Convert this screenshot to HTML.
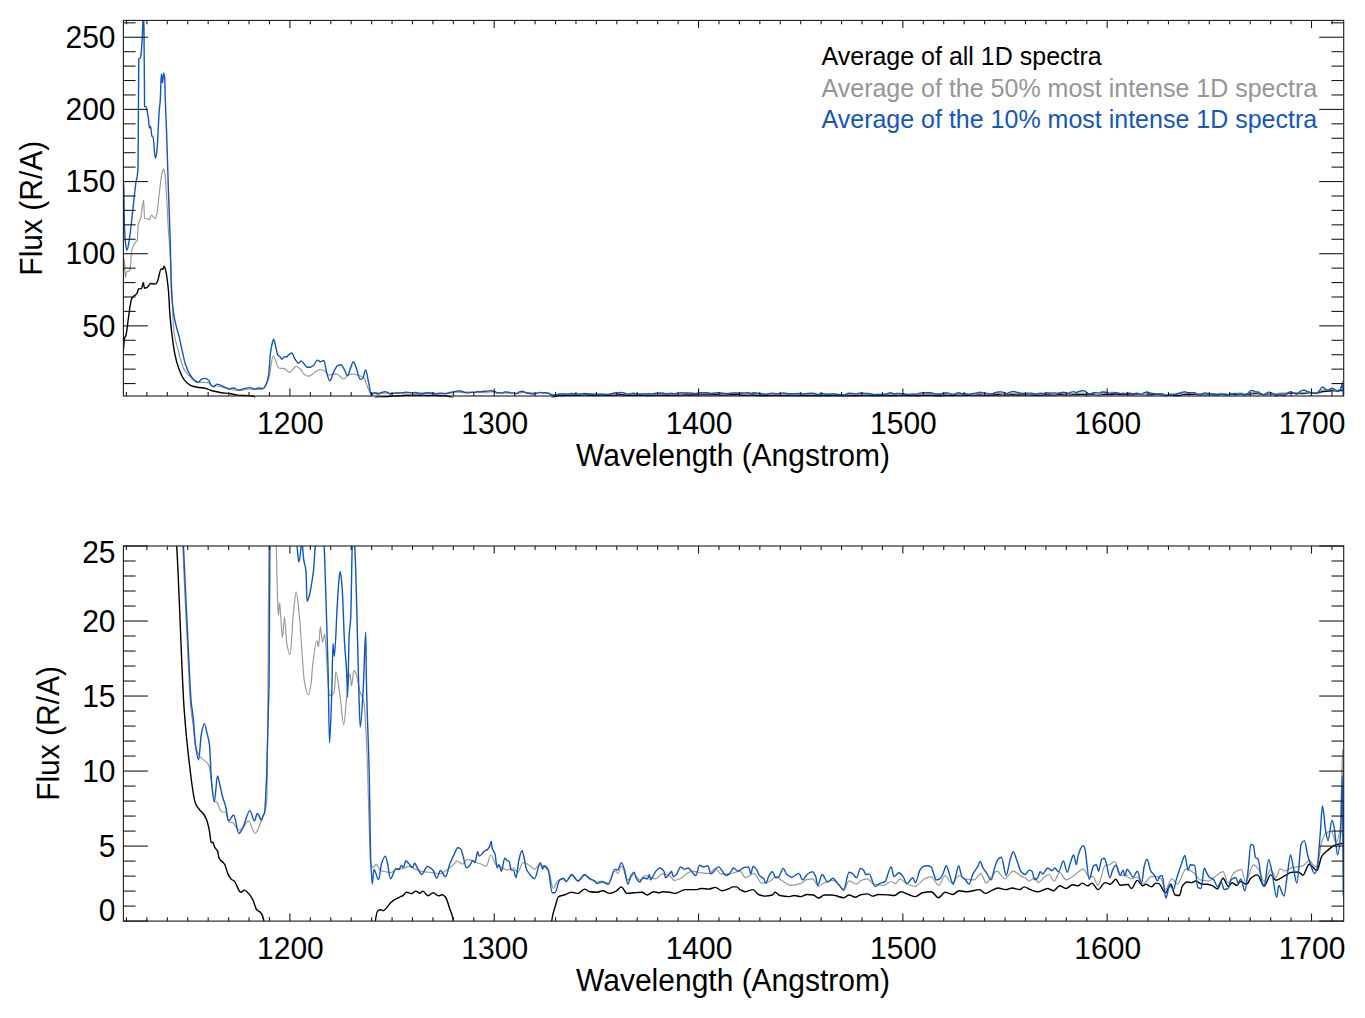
<!DOCTYPE html><html><head><meta charset="utf-8"><style>
html,body{margin:0;padding:0;background:#fff;}
body{width:1365px;height:1018px;overflow:hidden;}
svg{display:block;}
text{font-family:"Liberation Sans",sans-serif;}
</style></head><body>
<svg width="1365" height="1018" viewBox="0 0 1365 1018">
<defs>
<clipPath id="ct"><rect x="123.4" y="20.4" width="1220.3" height="377.0"/></clipPath>
<clipPath id="cb"><rect x="123.4" y="546.0" width="1220.3" height="375.1"/></clipPath>
</defs>

<g clip-path="url(#ct)" fill="none" stroke-linejoin="round" stroke-linecap="round">
<path d="M123.30,350.70 C123.77,346.40 124.23,339.31 124.70,337.80 C125.10,336.51 125.50,336.57 125.90,335.40 C126.70,333.06 127.50,324.07 128.30,318.90 C129.40,311.79 130.50,301.11 131.60,298.90 C132.37,297.36 133.13,296.76 133.90,296.00 C134.90,295.01 135.90,294.91 136.90,293.60 C137.47,292.86 138.03,289.13 138.60,288.90 C139.60,288.49 140.60,288.71 141.60,288.30 C142.17,288.07 142.73,282.40 143.30,282.40 C143.70,282.40 144.10,288.30 144.50,288.30 C145.50,288.30 146.50,287.69 147.50,287.10 C148.53,286.49 149.57,283.50 150.60,283.50 C152.20,283.50 153.80,284.10 155.40,284.10 C156.03,284.10 156.67,282.86 157.30,281.80 C158.63,279.56 159.97,268.60 161.30,268.60 C161.77,268.60 162.23,269.60 162.70,269.60 C163.13,269.60 163.57,266.10 164.00,266.10 C164.40,266.10 164.80,267.42 165.20,268.60 C166.27,271.74 167.33,279.32 168.40,290.00 C168.90,295.00 169.40,308.39 169.90,314.60 C170.57,322.88 171.23,328.79 171.90,334.20 C172.87,342.04 173.83,349.22 174.80,353.90 C176.13,360.36 177.47,365.05 178.80,368.60 C180.73,373.75 182.67,378.12 184.60,380.40 C186.57,382.72 188.53,384.44 190.50,385.30 C192.80,386.30 195.10,386.88 197.40,387.30 C200.17,387.81 202.93,387.84 205.70,388.40 C207.80,388.82 209.90,390.23 212.00,390.80 C215.13,391.64 218.27,392.28 221.40,392.70 C224.03,393.05 226.67,393.14 229.30,393.50 C231.93,393.86 234.57,394.88 237.20,395.10 C239.80,395.31 242.40,395.33 245.00,395.50 C247.90,395.69 250.80,395.69 253.70,396.30 C254.47,396.46 255.23,398.77 256.00,400.00 M375.00,398.86 C375.17,398.54 375.33,398.01 375.50,397.89 C376.33,397.30 377.17,397.06 378.00,397.00 C378.87,396.94 379.73,396.90 380.60,396.90 C381.47,396.90 382.33,397.00 383.20,397.00 C384.40,397.00 385.60,396.82 386.80,396.70 C388.17,396.57 389.53,396.33 390.90,396.21 C392.30,396.09 393.70,395.99 395.10,395.91 C396.47,395.83 397.83,395.78 399.20,395.71 C400.57,395.65 401.93,395.61 403.30,395.52 C404.33,395.45 405.37,395.22 406.40,395.22 C408.10,395.22 409.80,395.36 411.50,395.36 C412.90,395.36 414.30,395.11 415.70,395.11 C417.07,395.11 418.43,395.32 419.80,395.32 C420.83,395.32 421.87,395.11 422.90,395.11 C424.60,395.11 426.30,395.57 428.00,395.57 C429.73,395.57 431.47,395.27 433.20,395.27 C434.93,395.27 436.67,395.57 438.40,395.57 C439.77,395.57 441.13,395.46 442.50,395.46 C443.53,395.46 444.57,395.59 445.60,395.71 C446.97,395.88 448.33,396.40 449.70,396.81 C450.90,397.16 452.10,397.19 453.30,397.99 C453.47,398.10 453.63,398.57 453.80,398.86 M551.20,398.86 C551.37,398.57 551.53,398.12 551.70,397.99 C552.87,397.09 554.03,396.98 555.20,396.60 C556.33,396.22 557.47,395.71 558.60,395.64 C560.43,395.54 562.27,395.55 564.10,395.49 C566.60,395.41 569.10,395.23 571.60,395.23 C573.77,395.23 575.93,395.34 578.10,395.34 C580.27,395.34 582.43,394.92 584.60,394.92 C586.40,394.92 588.20,395.16 590.00,395.18 C592.17,395.21 594.33,395.23 596.50,395.23 C598.67,395.23 600.83,395.08 603.00,395.08 C605.17,395.08 607.33,395.34 609.50,395.34 C611.63,395.34 613.77,395.22 615.90,395.12 C617.73,395.04 619.57,394.71 621.40,394.71 C623.20,394.71 625.00,395.34 626.80,395.34 C629.30,395.34 631.80,395.30 634.30,395.28 C636.83,395.26 639.37,395.23 641.90,395.23 C643.67,395.23 645.43,395.49 647.20,395.49 C649.33,395.49 651.47,395.18 653.60,395.18 C655.43,395.18 657.27,395.28 659.10,395.28 C660.17,395.28 661.23,395.18 662.30,395.18 C664.83,395.18 667.37,395.21 669.90,395.23 C671.70,395.25 673.50,395.34 675.30,395.34 C678.53,395.34 681.77,394.97 685.00,394.97 C688.60,394.97 692.20,394.97 695.80,394.97 C697.60,394.97 699.40,394.86 701.20,394.86 C703.73,394.86 706.27,394.92 708.80,394.92 C710.97,394.92 713.13,394.76 715.30,394.76 C717.47,394.76 719.63,395.08 721.80,395.08 C724.30,395.08 726.80,394.96 729.30,394.86 C730.40,394.82 731.50,394.71 732.60,394.71 C734.03,394.71 735.47,394.71 736.90,394.71 C737.93,394.71 738.97,394.91 740.00,394.97 C741.80,395.07 743.60,395.18 745.40,395.18 C747.93,395.18 750.47,394.97 753.00,394.97 C754.80,394.97 756.60,395.37 758.40,395.44 C760.57,395.52 762.73,395.60 764.90,395.60 C767.40,395.60 769.90,395.56 772.40,395.49 C773.30,395.46 774.20,395.23 775.10,395.23 C776.73,395.23 778.37,395.50 780.00,395.54 C782.87,395.60 785.73,395.64 788.60,395.64 C790.43,395.64 792.27,395.54 794.10,395.54 C796.23,395.54 798.37,395.64 800.50,395.64 C802.67,395.64 804.83,395.44 807.00,395.44 C809.17,395.44 811.33,395.46 813.50,395.49 C815.13,395.51 816.77,395.80 818.40,395.80 C820.37,395.80 822.33,395.49 824.30,395.49 C826.83,395.49 829.37,395.49 831.90,395.49 C832.93,395.49 833.97,395.52 835.00,395.54 C837.87,395.59 840.73,395.75 843.60,395.75 C845.43,395.75 847.27,395.49 849.10,395.49 C851.23,395.49 853.37,395.70 855.50,395.70 C857.00,395.70 858.50,395.52 860.00,395.49 C862.47,395.43 864.93,395.38 867.40,395.38 C869.20,395.38 871.00,395.60 872.80,395.60 C874.60,395.60 876.40,395.44 878.20,395.44 C881.83,395.44 885.47,395.47 889.10,395.49 C890.90,395.50 892.70,395.54 894.50,395.54 C896.63,395.54 898.77,395.18 900.90,395.18 C903.43,395.18 905.97,395.36 908.50,395.44 C910.83,395.51 913.17,395.64 915.50,395.64 C917.87,395.64 920.23,395.32 922.60,395.28 C925.47,395.22 928.33,395.18 931.20,395.18 C933.67,395.18 936.13,395.75 938.60,395.75 C940.77,395.75 942.93,395.23 945.10,395.23 C947.63,395.23 950.17,395.44 952.70,395.44 C954.87,395.44 957.03,395.08 959.20,395.08 C961.73,395.08 964.27,395.18 966.80,395.18 C971.10,395.18 975.40,394.97 979.70,394.97 C981.50,394.97 983.30,395.34 985.10,395.34 C986.90,395.34 988.70,395.20 990.50,395.12 C993.03,395.02 995.57,394.82 998.10,394.82 C1000.63,394.82 1003.17,394.97 1005.70,394.97 C1007.87,394.97 1010.03,394.82 1012.20,394.82 C1014.70,394.82 1017.20,394.97 1019.70,394.97 C1021.17,394.97 1022.63,394.71 1024.10,394.71 C1026.20,394.71 1028.30,394.90 1030.40,394.97 C1032.93,395.06 1035.47,395.18 1038.00,395.18 C1041.23,395.18 1044.47,394.86 1047.70,394.86 C1049.67,394.86 1051.63,395.08 1053.60,395.08 C1055.60,395.08 1057.60,394.61 1059.60,394.61 C1061.77,394.61 1063.93,394.86 1066.10,394.86 C1068.27,394.86 1070.43,394.50 1072.60,394.50 C1074.40,394.50 1076.20,394.61 1078.00,394.61 C1079.43,394.61 1080.87,394.35 1082.30,394.35 C1084.10,394.35 1085.90,394.61 1087.70,394.61 C1089.13,394.61 1090.57,394.35 1092.00,394.35 C1094.00,394.35 1096.00,394.97 1098.00,394.97 C1100.33,394.97 1102.67,394.30 1105.00,394.30 C1106.80,394.30 1108.60,394.45 1110.40,394.45 C1112.20,394.45 1114.00,393.98 1115.80,393.98 C1117.23,393.98 1118.67,394.56 1120.10,394.56 C1121.50,394.56 1122.90,394.51 1124.30,394.50 C1125.53,394.49 1126.77,394.48 1128.00,394.48 C1129.13,394.48 1130.27,394.86 1131.40,394.86 C1133.37,394.86 1135.33,394.09 1137.30,394.09 C1139.10,394.09 1140.90,394.61 1142.70,394.61 C1143.77,394.61 1144.83,394.45 1145.90,394.45 C1147.73,394.45 1149.57,394.71 1151.40,394.71 C1152.83,394.71 1154.27,394.35 1155.70,394.35 C1156.77,394.35 1157.83,394.37 1158.90,394.39 C1161.07,394.45 1163.23,395.28 1165.40,395.28 C1167.20,395.28 1169.00,394.45 1170.80,394.45 C1172.23,394.45 1173.67,395.46 1175.10,395.49 C1176.57,395.52 1178.03,395.54 1179.50,395.54 C1180.40,395.54 1181.30,394.79 1182.20,394.66 C1183.80,394.43 1185.40,394.24 1187.00,394.24 C1188.47,394.24 1189.93,394.30 1191.40,394.30 C1192.83,394.30 1194.27,394.14 1195.70,394.14 C1197.87,394.14 1200.03,394.45 1202.20,394.45 C1203.63,394.45 1205.07,394.45 1206.50,394.45 C1208.30,394.45 1210.10,394.50 1211.90,394.56 C1213.77,394.61 1215.63,394.91 1217.50,394.91 C1219.33,394.91 1221.17,393.87 1223.00,393.87 C1224.77,393.87 1226.53,394.64 1228.30,394.64 C1229.60,394.64 1230.90,394.32 1232.20,394.32 C1233.77,394.32 1235.33,394.58 1236.90,394.58 C1238.00,394.58 1239.10,394.19 1240.20,394.19 C1242.40,394.19 1244.60,394.45 1246.80,394.45 C1248.13,394.45 1249.47,393.97 1250.80,393.87 C1253.00,393.71 1255.20,393.56 1257.40,393.56 C1259.63,393.56 1261.87,394.64 1264.10,394.64 C1266.30,394.64 1268.50,393.56 1270.70,393.56 C1272.47,393.56 1274.23,394.07 1276.00,394.07 C1278.67,394.07 1281.33,393.81 1284.00,393.68 C1286.63,393.55 1289.27,393.31 1291.90,393.30 C1294.03,393.29 1296.17,393.28 1298.30,393.28 C1299.83,393.28 1301.37,393.59 1302.90,393.59 C1305.00,393.59 1307.10,392.53 1309.20,392.53 C1311.80,392.53 1314.40,393.13 1317.00,393.13 C1318.57,393.13 1320.13,392.01 1321.70,391.78 C1323.80,391.47 1325.90,391.35 1328.00,391.17 C1330.10,391.00 1332.20,390.78 1334.30,390.71 C1336.40,390.64 1338.50,390.61 1340.60,390.57 C1342.07,390.54 1343.53,390.51 1345.00,390.49" stroke="#000000" stroke-width="1.4"/>
<path d="M123.30,297.00 C123.47,285.33 123.63,263.24 123.80,262.00 C124.03,260.27 124.27,259.40 124.50,259.40 C124.80,259.40 125.10,277.70 125.40,277.70 C125.87,277.70 126.33,272.21 126.80,271.80 C127.70,271.01 128.60,271.44 129.50,270.60 C129.90,270.23 130.30,267.25 130.70,263.60 C130.90,261.77 131.10,255.17 131.30,253.60 C131.77,249.94 132.23,248.36 132.70,247.10 C133.70,244.39 134.70,242.87 135.70,241.80 C136.23,241.23 136.77,241.41 137.30,240.50 C137.60,239.99 137.90,225.87 138.20,224.40 C139.00,220.49 139.80,221.26 140.60,218.50 C141.60,215.06 142.60,200.30 143.60,200.30 C143.93,200.30 144.27,218.50 144.60,218.50 C145.40,218.50 146.20,218.50 147.00,218.50 C147.83,218.50 148.67,220.00 149.50,220.00 C150.13,220.00 150.77,215.00 151.40,215.00 C152.57,215.00 153.73,218.50 154.90,218.50 C155.53,218.50 156.17,216.64 156.80,214.60 C157.63,211.91 158.47,199.75 159.30,193.00 C160.10,186.52 160.90,178.26 161.70,174.70 C162.30,172.03 162.90,168.90 163.50,168.90 C163.97,168.90 164.43,171.29 164.90,173.80 C165.57,177.39 166.23,190.12 166.90,201.00 C167.37,208.62 167.83,221.67 168.30,228.80 C168.73,235.42 169.17,238.65 169.60,245.00 C170.07,251.84 170.53,260.57 171.00,270.00 C171.50,280.10 172.00,293.67 172.50,305.00 C172.87,313.31 173.23,326.12 173.60,329.30 C175.03,341.75 176.47,343.23 177.90,348.90 C179.80,356.42 181.70,365.14 183.60,368.60 C185.73,372.48 187.87,374.33 190.00,376.40 C192.47,378.79 194.93,382.30 197.40,382.30 C199.93,382.30 202.47,382.30 205.00,382.30 C206.30,382.30 207.60,382.54 208.90,382.90 C209.93,383.18 210.97,386.00 212.00,386.00 C213.57,386.00 215.13,386.00 216.70,386.00 C219.07,386.00 221.43,386.98 223.80,387.60 C225.87,388.14 227.93,389.18 230.00,389.50 C233.33,390.02 236.67,390.50 240.00,390.50 C243.33,390.50 246.67,389.00 250.00,389.00 C252.67,389.00 255.33,389.50 258.00,389.50 C259.70,389.50 261.40,389.31 263.10,389.00 C264.93,388.66 266.77,383.93 268.60,379.00 C270.17,374.79 271.73,355.80 273.30,355.80 C275.13,355.80 276.97,367.56 278.80,368.00 C280.63,368.44 282.47,368.31 284.30,368.70 C286.10,369.09 287.90,372.30 289.70,372.30 C291.80,372.30 293.90,366.40 296.00,366.40 C297.57,366.40 299.13,368.04 300.70,369.50 C301.77,370.49 302.83,373.47 303.90,374.20 C305.47,375.27 307.03,376.20 308.60,376.20 C310.17,376.20 311.73,374.54 313.30,373.50 C314.33,372.81 315.37,371.69 316.40,371.10 C317.60,370.42 318.80,369.50 320.00,369.50 C321.43,369.50 322.87,370.09 324.30,370.70 C325.87,371.36 327.43,375.00 329.00,375.00 C331.37,375.00 333.73,373.90 336.10,373.90 C338.73,373.90 341.37,379.00 344.00,379.00 C345.30,379.00 346.60,375.35 347.90,375.00 C349.73,374.51 351.57,374.20 353.40,374.20 C354.70,374.20 356.00,374.66 357.30,375.00 C359.40,375.55 361.50,375.93 363.60,377.40 C364.90,378.31 366.20,383.98 367.50,386.80 C368.83,389.70 370.17,394.70 371.50,394.70 C372.13,394.70 372.77,392.97 373.40,392.84 C374.27,392.65 375.13,392.54 376.00,392.54 C377.53,392.54 379.07,393.07 380.60,393.13 C381.97,393.19 383.33,393.20 384.70,393.23 C386.77,393.27 388.83,393.34 390.90,393.34 C392.63,393.34 394.37,393.08 396.10,393.04 C398.40,392.98 400.70,392.99 403.00,392.94 C404.83,392.90 406.67,392.74 408.50,392.74 C410.33,392.74 412.17,392.87 414.00,392.94 C416.63,393.04 419.27,393.19 421.90,393.23 C425.33,393.29 428.77,393.30 432.20,393.34 C434.93,393.37 437.67,393.43 440.40,393.43 C443.17,393.43 445.93,393.12 448.70,392.94 C450.07,392.85 451.43,392.76 452.80,392.64 C454.17,392.53 455.53,392.24 456.90,392.24 C457.33,392.24 457.77,392.26 458.20,392.27 C459.67,392.31 461.13,392.53 462.60,392.53 C464.03,392.53 465.47,392.06 466.90,392.06 C468.33,392.06 469.77,392.12 471.20,392.16 C473.00,392.22 474.80,392.31 476.60,392.37 C478.07,392.42 479.53,392.46 481.00,392.51 C482.80,392.57 484.60,392.74 486.40,392.74 C487.83,392.74 489.27,391.64 490.70,391.64 C492.50,391.64 494.30,392.44 496.10,392.58 C498.27,392.74 500.43,392.79 502.60,392.89 C504.03,392.96 505.47,393.10 506.90,393.10 C509.07,393.10 511.23,392.89 513.40,392.89 C514.83,392.89 516.27,393.31 517.70,393.31 C519.50,393.31 521.30,392.37 523.10,392.37 C524.90,392.37 526.70,392.49 528.50,392.58 C530.67,392.68 532.83,393.00 535.00,393.00 C536.43,393.00 537.87,392.58 539.30,392.58 C540.87,392.58 542.43,392.66 544.00,392.75 C545.70,392.84 547.40,393.01 549.10,393.31 C550.47,393.54 551.83,394.86 553.20,394.86 C554.47,394.86 555.73,394.37 557.00,394.24 C557.90,394.15 558.80,394.07 559.70,394.04 C560.97,393.99 562.23,393.95 563.50,393.95 C564.40,393.95 565.30,394.19 566.20,394.19 C568.00,394.19 569.80,393.61 571.60,393.61 C573.77,393.61 575.93,394.14 578.10,394.14 C580.27,394.14 582.43,393.61 584.60,393.61 C586.40,393.61 588.20,393.86 590.00,393.95 C592.17,394.06 594.33,394.24 596.50,394.24 C598.30,394.24 600.10,394.14 601.90,394.14 C604.07,394.14 606.23,394.34 608.40,394.34 C610.57,394.34 612.73,393.18 614.90,393.18 C615.97,393.18 617.03,393.41 618.10,393.41 C619.20,393.41 620.30,392.70 621.40,392.70 C623.53,392.70 625.67,394.04 627.80,394.04 C629.97,394.04 632.13,393.52 634.30,393.52 C636.10,393.52 637.90,394.05 639.70,394.05 C641.47,394.05 643.23,393.61 645.00,393.61 C648.60,393.61 652.20,393.93 655.80,393.93 C657.97,393.93 660.13,393.46 662.30,393.46 C664.83,393.46 667.37,393.55 669.90,393.66 C671.33,393.73 672.77,394.09 674.20,394.09 C676.73,394.09 679.27,393.95 681.80,393.83 C683.23,393.75 684.67,393.54 686.10,393.46 C688.27,393.34 690.43,393.20 692.60,393.20 C695.47,393.20 698.33,393.33 701.20,393.35 C704.10,393.38 707.00,393.41 709.90,393.41 C711.70,393.41 713.50,392.89 715.30,392.89 C717.10,392.89 718.90,393.46 720.70,393.46 C723.57,393.46 726.43,393.46 729.30,393.46 C732.90,393.46 736.50,393.20 740.10,393.20 C741.87,393.20 743.63,393.83 745.40,393.83 C748.30,393.83 751.20,393.41 754.10,393.41 C756.60,393.41 759.10,394.35 761.60,394.35 C764.50,394.35 767.40,394.25 770.30,394.14 C772.10,394.08 773.90,393.72 775.70,393.72 C777.50,393.72 779.30,393.94 781.10,394.04 C784.33,394.22 787.57,394.56 790.80,394.56 C794.03,394.56 797.27,394.49 800.50,394.39 C802.30,394.34 804.10,394.09 805.90,394.04 C808.07,393.98 810.23,393.93 812.40,393.93 C814.57,393.93 816.73,394.66 818.90,394.66 C820.70,394.66 822.50,394.36 824.30,394.30 C827.20,394.19 830.10,394.09 833.00,394.09 C835.00,394.09 837.00,394.34 839.00,394.53 C840.53,394.67 842.07,395.08 843.60,395.08 C845.43,395.08 847.27,394.13 849.10,394.13 C851.60,394.13 854.10,394.45 856.60,394.45 C857.70,394.45 858.80,394.19 859.90,394.14 C862.40,394.03 864.90,393.93 867.40,393.93 C869.57,393.93 871.73,394.41 873.90,394.45 C877.13,394.52 880.37,394.56 883.60,394.56 C886.13,394.56 888.67,394.19 891.20,394.19 C892.63,394.19 894.07,394.39 895.50,394.39 C896.97,394.39 898.43,393.93 899.90,393.93 C902.07,393.93 904.23,394.30 906.40,394.39 C909.27,394.52 912.13,394.66 915.00,394.66 C918.23,394.66 921.47,394.08 924.70,393.93 C926.87,393.84 929.03,393.72 931.20,393.72 C933.67,393.72 936.13,394.56 938.60,394.56 C940.77,394.56 942.93,393.61 945.10,393.61 C947.27,393.61 949.43,394.35 951.60,394.35 C954.13,394.35 956.67,393.61 959.20,393.61 C961.00,393.61 962.80,393.90 964.60,393.93 C967.83,394.00 971.07,394.04 974.30,394.04 C976.47,394.04 978.63,393.41 980.80,393.41 C982.60,393.41 984.40,394.35 986.20,394.35 C988.00,394.35 989.80,393.91 991.60,393.72 C993.40,393.53 995.20,393.20 997.00,393.20 C999.53,393.20 1002.07,393.93 1004.60,393.93 C1007.47,393.93 1010.33,393.20 1013.20,393.20 C1016.10,393.20 1019.00,393.60 1021.90,393.72 C1022.93,393.76 1023.97,393.78 1025.00,393.83 C1026.43,393.89 1027.87,394.14 1029.30,394.14 C1031.10,394.14 1032.90,393.83 1034.70,393.83 C1035.97,393.83 1037.23,394.30 1038.50,394.30 C1039.77,394.30 1041.03,394.08 1042.30,393.98 C1044.47,393.81 1046.63,393.52 1048.80,393.52 C1050.60,393.52 1052.40,394.14 1054.20,394.14 C1056.00,394.14 1057.80,393.31 1059.60,393.31 C1061.77,393.31 1063.93,394.04 1066.10,394.04 C1068.27,394.04 1070.43,393.84 1072.60,393.72 C1076.20,393.52 1079.80,393.00 1083.40,393.00 C1085.20,393.00 1087.00,393.72 1088.80,393.72 C1090.20,393.72 1091.60,393.72 1093.00,393.72 C1094.67,393.72 1096.33,394.56 1098.00,394.56 C1100.33,394.56 1102.67,392.78 1105.00,392.68 C1106.43,392.62 1107.87,392.62 1109.30,392.58 C1111.10,392.52 1112.90,392.27 1114.70,392.27 C1116.87,392.27 1119.03,393.61 1121.20,393.61 C1122.47,393.61 1123.73,393.57 1125.00,393.57 C1126.93,393.57 1128.87,393.93 1130.80,393.93 C1132.87,393.93 1134.93,393.76 1137.00,393.76 C1138.90,393.76 1140.80,394.45 1142.70,394.45 C1145.60,394.45 1148.50,393.72 1151.40,393.72 C1152.93,393.72 1154.47,393.72 1156.00,393.72 C1157.70,393.72 1159.40,393.81 1161.10,393.93 C1162.53,394.04 1163.97,394.97 1165.40,394.97 C1167.57,394.97 1169.73,393.93 1171.90,393.93 C1173.70,393.93 1175.50,394.45 1177.30,394.45 C1180.20,394.45 1183.10,393.00 1186.00,393.00 C1188.87,393.00 1191.73,393.21 1194.60,393.41 C1196.40,393.54 1198.20,394.00 1200.00,394.04 C1202.87,394.11 1205.73,394.14 1208.60,394.14 C1210.77,394.14 1212.93,393.86 1215.10,393.72 C1217.73,393.55 1220.37,393.24 1223.00,393.24 C1224.77,393.24 1226.53,394.32 1228.30,394.32 C1230.07,394.32 1231.83,393.49 1233.60,393.36 C1236.23,393.18 1238.87,393.05 1241.50,393.05 C1242.83,393.05 1244.17,394.19 1245.50,394.19 C1248.17,394.19 1250.83,392.60 1253.50,392.60 C1255.27,392.60 1257.03,392.83 1258.80,393.05 C1260.57,393.26 1262.33,394.19 1264.10,394.19 C1266.30,394.19 1268.50,393.05 1270.70,393.05 C1272.47,393.05 1274.23,393.81 1276.00,393.81 C1277.33,393.81 1278.67,392.98 1280.00,392.98 C1281.77,392.98 1283.53,393.17 1285.30,393.17 C1287.50,393.17 1289.70,392.89 1291.90,392.85 C1294.13,392.82 1296.37,392.82 1298.60,392.79 C1300.13,392.76 1301.67,392.72 1303.20,392.66 C1305.20,392.58 1307.20,392.15 1309.20,392.15 C1311.13,392.15 1313.07,392.79 1315.00,392.79 C1315.67,392.79 1316.33,392.74 1317.00,392.68 C1318.57,392.55 1320.13,390.90 1321.70,390.41 C1322.77,390.08 1323.83,389.74 1324.90,389.65 C1327.00,389.47 1329.10,389.35 1331.20,389.35 C1332.77,389.35 1334.33,390.41 1335.90,390.41 C1337.47,390.41 1339.03,389.88 1340.60,388.75 C1341.27,388.27 1341.93,381.50 1342.60,381.50 C1342.93,381.50 1343.27,390.87 1343.60,391.16 C1344.40,391.87 1345.20,391.80 1346.00,392.12" stroke="#999999" stroke-width="1.2"/>
<path d="M123.40,181.20 C123.57,184.13 123.73,185.33 123.90,190.00 C124.07,194.67 124.23,219.40 124.40,224.40 C124.73,234.40 125.07,239.07 125.40,242.00 C125.90,246.40 126.40,250.40 126.90,250.40 C127.87,250.40 128.83,242.28 129.80,236.20 C130.63,230.96 131.47,221.94 132.30,214.60 C133.43,204.62 134.57,192.92 135.70,184.00 C136.47,177.97 137.23,180.50 138.00,167.70 C138.17,164.92 138.33,122.77 138.50,100.00 C138.60,86.34 138.70,58.80 138.80,58.70 C139.23,58.28 139.67,58.51 140.10,58.20 C140.43,57.96 140.77,56.32 141.10,54.30 C141.53,51.68 141.97,42.53 142.40,34.60 C142.73,28.50 143.07,12.00 143.40,12.00 C143.60,12.00 143.80,20.29 144.00,30.00 C144.20,39.71 144.40,106.27 144.60,106.40 C145.07,106.71 145.53,106.57 146.00,106.80 C146.83,107.22 147.67,114.11 148.50,119.60 C148.83,121.80 149.17,128.00 149.50,128.00 C149.87,128.00 150.23,126.50 150.60,126.50 C151.03,126.50 151.47,136.30 151.90,136.30 C152.23,136.30 152.57,136.30 152.90,136.30 C153.73,136.30 154.57,158.40 155.40,158.40 C155.87,158.40 156.33,155.19 156.80,152.00 C157.63,146.31 158.47,119.76 159.30,109.80 C159.63,105.82 159.97,104.74 160.30,100.00 C160.63,95.26 160.97,74.00 161.30,74.00 C161.67,74.00 162.03,82.80 162.40,82.80 C162.83,82.80 163.27,73.00 163.70,73.00 C164.03,73.00 164.37,75.32 164.70,78.90 C164.90,81.05 165.10,94.04 165.30,100.00 C165.70,111.91 166.10,118.93 166.50,130.00 C167.13,147.52 167.77,171.29 168.40,190.00 C169.00,207.72 169.60,219.73 170.20,240.00 C170.60,253.51 171.00,282.94 171.40,290.00 C172.20,304.11 173.00,309.35 173.80,314.60 C174.47,318.97 175.13,321.52 175.80,324.40 C177.10,330.02 178.40,333.61 179.70,339.10 C180.53,342.62 181.37,347.25 182.20,350.90 C183.33,355.87 184.47,361.40 185.60,364.70 C187.23,369.45 188.87,372.95 190.50,375.50 C191.83,377.58 193.17,379.47 194.50,380.40 C195.80,381.30 197.10,382.30 198.40,382.30 C199.37,382.30 200.33,379.82 201.30,379.40 C202.53,378.86 203.77,378.40 205.00,378.40 C206.30,378.40 207.60,379.33 208.90,380.50 C209.67,381.19 210.43,384.56 211.20,385.30 C212.00,386.07 212.80,386.80 213.60,386.80 C214.63,386.80 215.67,384.10 216.70,384.10 C217.77,384.10 218.83,384.55 219.90,384.90 C221.20,385.33 222.50,386.25 223.80,386.80 C225.63,387.57 227.47,388.80 229.30,388.80 C230.60,388.80 231.90,388.00 233.20,388.00 C235.17,388.00 237.13,390.00 239.10,390.00 C241.07,390.00 243.03,388.81 245.00,388.40 C246.57,388.08 248.13,387.60 249.70,387.60 C251.30,387.60 252.90,389.20 254.50,389.20 C255.80,389.20 257.10,388.00 258.40,388.00 C259.97,388.00 261.53,388.40 263.10,388.40 C264.17,388.40 265.23,386.01 266.30,383.70 C267.07,382.04 267.83,379.58 268.60,375.00 C269.13,371.82 269.67,359.87 270.20,355.40 C270.73,350.93 271.27,347.45 271.80,345.20 C272.43,342.53 273.07,339.30 273.70,339.30 C274.37,339.30 275.03,344.26 275.70,346.70 C276.50,349.63 277.30,354.70 278.10,355.40 C278.60,355.84 279.10,355.83 279.60,356.20 C280.40,356.79 281.20,359.30 282.00,359.30 C282.77,359.30 283.53,356.60 284.30,356.60 C285.10,356.60 285.90,357.00 286.70,357.00 C287.17,357.00 287.63,355.81 288.10,355.40 C289.30,354.35 290.50,353.00 291.70,353.00 C292.87,353.00 294.03,357.61 295.20,359.30 C296.27,360.85 297.33,363.20 298.40,363.20 C299.30,363.20 300.20,360.90 301.10,360.90 C302.03,360.90 302.97,362.62 303.90,363.60 C304.93,364.69 305.97,367.20 307.00,367.20 C308.07,367.20 309.13,367.20 310.20,367.20 C311.50,367.20 312.80,365.96 314.10,364.80 C315.13,363.88 316.17,360.10 317.20,360.10 C318.27,360.10 319.33,361.70 320.40,361.70 C321.57,361.70 322.73,360.50 323.90,360.50 C324.83,360.50 325.77,369.61 326.70,372.70 C327.73,376.12 328.77,380.90 329.80,380.90 C331.10,380.90 332.40,374.34 333.70,371.90 C335.03,369.40 336.37,366.17 337.70,365.60 C338.73,365.16 339.77,364.80 340.80,364.80 C342.10,364.80 343.40,368.15 344.70,370.30 C345.63,371.85 346.57,375.80 347.50,375.80 C348.43,375.80 349.37,370.93 350.30,368.70 C351.33,366.23 352.37,361.70 353.40,361.70 C354.43,361.70 355.47,366.06 356.50,368.70 C357.70,371.77 358.90,379.40 360.10,379.40 C361.00,379.40 361.90,378.89 362.80,378.20 C363.73,377.48 364.67,369.90 365.60,369.90 C366.63,369.90 367.67,378.41 368.70,382.90 C369.63,386.95 370.57,395.50 371.50,395.50 C371.77,395.50 372.03,394.71 372.30,394.42 C372.83,393.85 373.37,393.04 373.90,393.04 C375.47,393.04 377.03,394.03 378.60,394.03 C379.60,394.03 380.60,392.72 381.60,392.44 C382.83,392.09 384.07,391.75 385.30,391.75 C385.97,391.75 386.63,392.10 387.30,392.35 C388.33,392.73 389.37,393.93 390.40,393.93 C392.30,393.93 394.20,392.94 396.10,392.94 C397.13,392.94 398.17,393.04 399.20,393.04 C399.87,393.04 400.53,392.64 401.20,392.64 C401.90,392.64 402.60,392.84 403.30,392.84 C404.17,392.84 405.03,392.19 405.90,392.19 C406.77,392.19 407.63,392.36 408.50,392.44 C409.87,392.57 411.23,392.84 412.60,392.84 C413.27,392.84 413.93,392.44 414.60,392.44 C415.63,392.44 416.67,392.79 417.70,392.94 C419.10,393.15 420.50,393.53 421.90,393.53 C422.93,393.53 423.97,393.18 425.00,393.04 C425.83,392.92 426.67,392.74 427.50,392.74 C428.70,392.74 429.90,392.86 431.10,392.94 C431.80,392.99 432.50,393.05 433.20,393.13 C434.40,393.28 435.60,393.87 436.80,393.87 C438.00,393.87 439.20,393.13 440.40,393.13 C442.13,393.13 443.87,393.73 445.60,393.73 C446.97,393.73 448.33,392.88 449.70,392.54 C451.07,392.20 452.43,391.91 453.80,391.65 C455.17,391.39 456.53,390.95 457.90,390.95 C458.73,390.95 459.57,390.98 460.40,391.02 C461.30,391.06 462.20,391.48 463.10,391.75 C464.20,392.08 465.30,392.89 466.40,392.89 C467.47,392.89 468.53,392.78 469.60,392.68 C470.67,392.58 471.73,392.16 472.80,392.16 C473.53,392.16 474.27,392.37 475.00,392.37 C475.90,392.37 476.80,391.34 477.70,391.34 C478.23,391.34 478.77,391.75 479.30,391.75 C480.20,391.75 481.10,391.62 482.00,391.54 C482.73,391.47 483.47,391.33 484.20,391.28 C485.27,391.20 486.33,391.20 487.40,391.12 C488.13,391.07 488.87,390.96 489.60,390.82 C490.13,390.71 490.67,390.34 491.20,390.34 C491.57,390.34 491.93,390.90 492.30,391.02 C493.20,391.30 494.10,391.27 495.00,391.54 C495.73,391.76 496.47,392.89 497.20,392.89 C497.73,392.89 498.27,392.58 498.80,392.58 C499.70,392.58 500.60,393.20 501.50,393.20 C502.57,393.20 503.63,391.95 504.70,391.95 C505.43,391.95 506.17,392.12 506.90,392.16 C507.63,392.21 508.37,392.21 509.10,392.27 C509.80,392.33 510.50,393.10 511.20,393.10 C511.93,393.10 512.67,393.10 513.40,393.10 C514.30,393.10 515.20,393.83 516.10,393.83 C517.00,393.83 517.90,392.52 518.80,392.16 C519.87,391.74 520.93,391.23 522.00,391.23 C522.73,391.23 523.47,391.67 524.20,391.95 C524.93,392.24 525.67,392.83 526.40,393.00 C527.83,393.33 529.27,393.46 530.70,393.61 C531.97,393.75 533.23,393.93 534.50,393.93 C536.47,393.93 538.43,392.37 540.40,392.37 C541.13,392.37 541.87,393.00 542.60,393.00 C543.13,393.00 543.67,392.68 544.20,392.68 C545.47,392.68 546.73,392.82 548.00,393.00 C549.43,393.20 550.87,395.28 552.30,395.28 C553.17,395.28 554.03,395.28 554.90,395.28 C556.50,395.28 558.10,394.15 559.70,394.04 C560.97,393.95 562.23,393.87 563.50,393.87 C564.40,393.87 565.30,394.19 566.20,394.19 C568.00,394.19 569.80,393.52 571.60,393.52 C573.77,393.52 575.93,394.14 578.10,394.14 C580.27,394.14 582.43,393.52 584.60,393.52 C586.40,393.52 588.20,393.84 590.00,393.93 C591.63,394.02 593.27,394.01 594.90,394.13 C595.43,394.17 595.97,394.39 596.50,394.39 C598.30,394.39 600.10,394.24 601.90,394.24 C604.07,394.24 606.23,394.45 608.40,394.45 C610.57,394.45 612.73,393.00 614.90,393.00 C615.80,393.00 616.70,393.10 617.60,393.10 C618.87,393.10 620.13,392.37 621.40,392.37 C622.47,392.37 623.53,392.78 624.60,393.10 C625.67,393.41 626.73,394.45 627.80,394.45 C628.90,394.45 630.00,393.77 631.10,393.61 C632.17,393.47 633.23,393.31 634.30,393.31 C634.83,393.31 635.37,393.73 635.90,393.83 C637.17,394.05 638.43,394.24 639.70,394.24 C640.80,394.24 641.90,393.83 643.00,393.83 C644.57,393.83 646.13,393.93 647.70,393.93 C648.23,393.93 648.77,393.52 649.30,393.52 C649.67,393.52 650.03,394.04 650.40,394.04 C652.20,394.04 654.00,393.39 655.80,393.20 C657.07,393.07 658.33,392.89 659.60,392.89 C661.03,392.89 662.47,393.01 663.90,393.20 C664.43,393.27 664.97,393.83 665.50,393.83 C666.97,393.83 668.43,393.58 669.90,393.41 C670.43,393.35 670.97,393.20 671.50,393.20 C672.03,393.20 672.57,393.72 673.10,393.72 C674.20,393.72 675.30,393.62 676.40,393.52 C677.83,393.39 679.27,392.79 680.70,392.79 C681.77,392.79 682.83,393.00 683.90,393.00 C685.33,393.00 686.77,392.89 688.20,392.89 C689.30,392.89 690.40,393.10 691.50,393.20 C692.93,393.34 694.37,393.61 695.80,393.61 C697.07,393.61 698.33,392.63 699.60,392.63 C700.87,392.63 702.13,392.79 703.40,392.79 C704.83,392.79 706.27,392.68 707.70,392.68 C708.80,392.68 709.90,393.46 711.00,393.46 C713.50,393.46 716.00,392.79 718.50,392.79 C721.03,392.79 723.57,393.61 726.10,393.61 C727.17,393.61 728.23,393.53 729.30,393.46 C730.73,393.36 732.17,392.89 733.60,392.89 C735.07,392.89 736.53,393.20 738.00,393.20 C740.10,393.20 742.20,392.87 744.30,392.84 C745.73,392.81 747.17,392.79 748.60,392.79 C749.33,392.79 750.07,393.46 750.80,393.46 C751.53,393.46 752.27,392.74 753.00,392.74 C754.07,392.74 755.13,392.88 756.20,393.00 C757.30,393.12 758.40,393.50 759.50,393.61 C760.93,393.77 762.37,393.76 763.80,393.93 C764.50,394.01 765.20,394.39 765.90,394.39 C766.80,394.39 767.70,393.87 768.60,393.72 C769.87,393.51 771.13,393.26 772.40,393.26 C773.50,393.26 774.60,393.83 775.70,393.83 C776.77,393.83 777.83,393.78 778.90,393.72 C780.33,393.64 781.77,392.94 783.20,392.94 C784.30,392.94 785.40,393.36 786.50,393.46 C788.30,393.62 790.10,393.78 791.90,393.78 C794.23,393.78 796.57,393.41 798.90,393.41 C800.17,393.41 801.43,394.04 802.70,394.04 C804.13,394.04 805.57,393.62 807.00,393.52 C808.80,393.39 810.60,393.26 812.40,393.26 C813.50,393.26 814.60,393.48 815.70,393.72 C816.40,393.87 817.10,394.56 817.80,394.56 C819.27,394.56 820.73,393.52 822.20,393.52 C824.00,393.52 825.80,394.24 827.60,394.24 C829.40,394.24 831.20,393.87 833.00,393.87 C833.67,393.87 834.33,393.97 835.00,394.04 C836.43,394.17 837.87,394.40 839.30,394.56 C840.73,394.71 842.17,394.97 843.60,394.97 C845.43,394.97 847.27,393.31 849.10,393.31 C850.17,393.31 851.23,393.36 852.30,393.41 C853.73,393.48 855.17,393.83 856.60,393.83 C857.87,393.83 859.13,392.94 860.40,392.94 C861.47,392.94 862.53,393.01 863.60,393.10 C864.33,393.15 865.07,393.52 865.80,393.52 C866.90,393.52 868.00,393.46 869.10,393.46 C871.07,393.46 873.03,394.66 875.00,394.66 C876.80,394.66 878.60,394.41 880.40,394.35 C881.83,394.30 883.27,394.30 884.70,394.24 C886.87,394.15 889.03,392.79 891.20,392.79 C892.10,392.79 893.00,393.72 893.90,393.72 C895.53,393.72 897.17,393.35 898.80,393.35 C900.23,393.35 901.67,393.55 903.10,393.72 C904.37,393.87 905.63,394.39 906.90,394.39 C908.87,394.39 910.83,393.83 912.80,393.83 C913.70,393.83 914.60,394.30 915.50,394.30 C916.97,394.30 918.43,393.32 919.90,393.10 C920.80,392.96 921.70,392.83 922.60,392.79 C924.03,392.73 925.47,392.68 926.90,392.68 C928.33,392.68 929.77,392.72 931.20,392.79 C931.87,392.82 932.53,393.15 933.20,393.31 C934.30,393.57 935.40,394.04 936.50,394.04 C937.57,394.04 938.63,393.99 939.70,393.93 C940.80,393.87 941.90,393.66 943.00,393.46 C944.07,393.27 945.13,392.68 946.20,392.68 C947.30,392.68 948.40,393.24 949.50,393.52 C950.73,393.83 951.97,394.45 953.20,394.45 C954.10,394.45 955.00,393.91 955.90,393.61 C956.80,393.32 957.70,392.68 958.60,392.68 C959.70,392.68 960.80,393.57 961.90,393.72 C963.17,393.89 964.43,393.91 965.70,394.04 C966.77,394.15 967.83,394.45 968.90,394.45 C970.33,394.45 971.77,393.67 973.20,393.41 C974.67,393.15 976.13,393.03 977.60,392.79 C978.50,392.64 979.40,392.27 980.30,392.27 C981.20,392.27 982.10,392.74 983.00,392.89 C984.07,393.07 985.13,393.16 986.20,393.31 C987.83,393.53 989.47,394.04 991.10,394.04 C992.37,394.04 993.63,393.13 994.90,392.79 C995.97,392.50 997.03,392.16 998.10,392.06 C999.20,391.95 1000.30,391.85 1001.40,391.85 C1003.00,391.85 1004.60,393.61 1006.20,393.61 C1007.47,393.61 1008.73,392.55 1010.00,392.16 C1011.07,391.84 1012.13,391.34 1013.20,391.34 C1014.30,391.34 1015.40,391.79 1016.50,392.06 C1017.93,392.40 1019.37,393.04 1020.80,393.20 C1022.23,393.37 1023.67,393.52 1025.10,393.52 C1026.50,393.52 1027.90,393.10 1029.30,393.10 C1030.20,393.10 1031.10,393.14 1032.00,393.20 C1032.90,393.26 1033.80,394.04 1034.70,394.04 C1035.80,394.04 1036.90,393.91 1038.00,393.78 C1038.70,393.69 1039.40,393.26 1040.10,393.26 C1041.00,393.26 1041.90,393.46 1042.80,393.46 C1044.43,393.46 1046.07,392.89 1047.70,392.89 C1049.13,392.89 1050.57,393.15 1052.00,393.15 C1052.90,393.15 1053.80,392.89 1054.70,392.89 C1055.97,392.89 1057.23,393.26 1058.50,393.26 C1060.13,393.26 1061.77,392.22 1063.40,392.22 C1064.67,392.22 1065.93,393.31 1067.20,393.31 C1068.27,393.31 1069.33,392.65 1070.40,392.37 C1071.47,392.10 1072.53,391.64 1073.60,391.64 C1074.53,391.64 1075.47,392.58 1076.40,392.58 C1076.93,392.58 1077.47,391.92 1078.00,391.75 C1079.60,391.24 1081.20,390.76 1082.80,390.76 C1083.37,390.76 1083.93,390.83 1084.50,390.91 C1086.10,391.14 1087.70,393.98 1089.30,393.98 C1090.73,393.98 1092.17,392.77 1093.60,392.68 C1094.53,392.62 1095.47,392.58 1096.40,392.58 C1097.10,392.58 1097.80,393.20 1098.50,393.20 C1099.60,393.20 1100.70,392.13 1101.80,392.06 C1102.70,391.99 1103.60,391.95 1104.50,391.95 C1105.03,391.95 1105.57,392.21 1106.10,392.37 C1107.37,392.76 1108.63,393.83 1109.90,393.83 C1110.80,393.83 1111.70,393.27 1112.60,393.10 C1113.67,392.89 1114.73,392.63 1115.80,392.63 C1117.23,392.63 1118.67,393.61 1120.10,393.61 C1121.13,393.61 1122.17,393.10 1123.20,393.10 C1123.77,393.10 1124.33,393.67 1124.90,393.67 C1125.60,393.67 1126.30,393.00 1127.00,393.00 C1127.90,393.00 1128.80,393.19 1129.70,393.31 C1130.80,393.45 1131.90,393.78 1133.00,393.78 C1134.43,393.78 1135.87,393.20 1137.30,393.20 C1138.73,393.20 1140.17,394.35 1141.60,394.35 C1142.50,394.35 1143.40,392.98 1144.30,392.68 C1145.20,392.38 1146.10,392.06 1147.00,392.06 C1148.27,392.06 1149.53,393.00 1150.80,393.20 C1152.07,393.40 1153.33,393.44 1154.60,393.61 C1155.50,393.74 1156.40,394.13 1157.30,394.13 C1158.20,394.13 1159.10,393.71 1160.00,393.67 C1160.73,393.64 1161.47,393.61 1162.20,393.61 C1163.43,393.61 1164.67,395.80 1165.90,395.80 C1167.17,395.80 1168.43,394.56 1169.70,394.56 C1170.97,394.56 1172.23,394.97 1173.50,394.97 C1174.40,394.97 1175.30,394.32 1176.20,394.04 C1178.00,393.46 1179.80,392.94 1181.60,392.47 C1182.70,392.19 1183.80,391.69 1184.90,391.69 C1185.97,391.69 1187.03,393.10 1188.10,393.10 C1188.83,393.10 1189.57,392.58 1190.30,392.58 C1191.73,392.58 1193.17,392.59 1194.60,392.63 C1195.67,392.66 1196.73,394.69 1197.80,394.76 C1198.90,394.83 1200.00,394.86 1201.10,394.86 C1202.17,394.86 1203.23,392.89 1204.30,392.89 C1205.03,392.89 1205.77,393.18 1206.50,393.31 C1207.57,393.49 1208.63,393.77 1209.70,393.83 C1210.80,393.89 1211.90,393.88 1213.00,393.93 C1214.57,394.01 1216.13,394.70 1217.70,394.70 C1218.80,394.70 1219.90,394.19 1221.00,394.19 C1222.10,394.19 1223.20,394.96 1224.30,394.96 C1225.63,394.96 1226.97,394.91 1228.30,394.83 C1229.17,394.77 1230.03,394.15 1230.90,394.07 C1232.47,393.91 1234.03,393.81 1235.60,393.81 C1236.47,393.81 1237.33,394.32 1238.20,394.32 C1239.10,394.32 1240.00,393.94 1240.90,393.94 C1242.20,393.94 1243.50,395.09 1244.80,395.09 C1245.93,395.09 1247.07,393.88 1248.20,393.05 C1249.07,392.41 1249.93,390.62 1250.80,390.62 C1251.70,390.62 1252.60,390.67 1253.50,390.75 C1254.17,390.81 1254.83,391.83 1255.50,391.89 C1256.37,391.98 1257.23,391.95 1258.10,392.03 C1259.43,392.15 1260.77,394.05 1262.10,394.32 C1262.77,394.45 1263.43,394.58 1264.10,394.58 C1265.63,394.58 1267.17,392.09 1268.70,392.09 C1269.80,392.09 1270.90,392.83 1272.00,393.30 C1273.57,393.96 1275.13,395.72 1276.70,395.72 C1277.37,395.72 1278.03,394.58 1278.70,394.58 C1280.47,394.58 1282.23,395.60 1284.00,395.60 C1285.10,395.60 1286.20,394.22 1287.30,393.56 C1288.40,392.90 1289.50,391.64 1290.60,391.64 C1291.47,391.64 1292.33,392.41 1293.20,392.79 C1294.43,393.32 1295.67,394.35 1296.90,394.35 C1298.37,394.35 1299.83,390.82 1301.30,390.57 C1302.33,390.39 1303.37,390.26 1304.40,390.26 C1305.47,390.26 1306.53,391.23 1307.60,391.62 C1308.37,391.91 1309.13,392.17 1309.90,392.37 C1311.50,392.80 1313.10,393.43 1314.70,393.43 C1315.47,393.43 1316.23,393.22 1317.00,392.98 C1318.07,392.64 1319.13,390.84 1320.20,389.65 C1320.97,388.80 1321.73,386.93 1322.50,386.93 C1323.57,386.93 1324.63,388.81 1325.70,389.35 C1326.47,389.74 1327.23,390.26 1328.00,390.26 C1329.33,390.26 1330.67,388.30 1332.00,388.30 C1332.77,388.30 1333.53,388.71 1334.30,389.06 C1335.37,389.54 1336.43,391.62 1337.50,391.62 C1338.53,391.62 1339.57,390.85 1340.60,389.65 C1341.13,389.03 1341.67,384.06 1342.20,384.06 C1342.60,384.06 1343.00,395.17 1343.40,395.49 C1344.27,396.19 1345.13,396.13 1346.00,396.45" stroke="#0f56c0" stroke-width="1.4"/>
</g>
<g clip-path="url(#cb)" fill="none" stroke-linejoin="round" stroke-linecap="round">
<path d="M176.30,540.00 C176.43,541.93 176.57,543.61 176.70,545.80 C179.20,586.91 181.70,674.79 184.20,710.00 C185.47,727.84 186.73,740.55 188.00,751.60 C190.47,773.13 192.93,797.18 195.40,803.20 C196.60,806.13 197.80,807.37 199.00,809.00 C200.73,811.35 202.47,812.38 204.20,815.00 C205.03,816.26 205.87,817.79 206.70,820.00 C207.57,822.30 208.43,826.07 209.30,830.30 C209.97,833.55 210.63,842.70 211.30,842.70 C211.83,842.70 212.37,842.20 212.90,842.20 C213.40,842.20 213.90,845.83 214.40,846.80 C215.43,848.80 216.47,848.66 217.50,850.90 C218.03,852.06 218.57,857.03 219.10,858.10 C220.97,861.84 222.83,861.14 224.70,864.30 C225.73,866.05 226.77,871.52 227.80,873.60 C229.20,876.42 230.60,878.81 232.00,879.80 C232.67,880.27 233.33,880.33 234.00,880.80 C236.23,882.37 238.47,892.20 240.70,892.20 C241.90,892.20 243.10,890.10 244.30,890.10 C245.33,890.10 246.37,891.29 247.40,892.20 C249.13,893.73 250.87,896.27 252.60,899.40 C253.97,901.87 255.33,908.11 256.70,909.70 C258.07,911.29 259.43,911.15 260.80,912.80 C261.83,914.05 262.87,915.48 263.90,921.00 C264.10,922.07 264.30,927.00 264.50,930.00 M375.00,930.00 C375.17,926.67 375.33,921.23 375.50,920.00 C376.33,913.83 377.17,911.28 378.00,910.70 C378.87,910.09 379.73,909.70 380.60,909.70 C381.47,909.70 382.33,910.70 383.20,910.70 C384.40,910.70 385.60,908.82 386.80,907.60 C388.17,906.21 389.53,903.77 390.90,902.50 C392.30,901.20 393.70,900.25 395.10,899.40 C396.47,898.57 397.83,897.98 399.20,897.30 C400.57,896.62 401.93,896.21 403.30,895.30 C404.33,894.61 405.37,892.20 406.40,892.20 C408.10,892.20 409.80,893.70 411.50,893.70 C412.90,893.70 414.30,891.10 415.70,891.10 C417.07,891.10 418.43,893.20 419.80,893.20 C420.83,893.20 421.87,891.10 422.90,891.10 C424.60,891.10 426.30,895.80 428.00,895.80 C429.73,895.80 431.47,892.70 433.20,892.70 C434.93,892.70 436.67,895.80 438.40,895.80 C439.77,895.80 441.13,894.70 442.50,894.70 C443.53,894.70 444.57,896.00 445.60,897.30 C446.97,899.02 448.33,904.50 449.70,908.70 C450.90,912.39 452.10,912.68 453.30,921.00 C453.47,922.16 453.63,927.00 453.80,930.00 M551.20,930.00 C551.37,927.00 551.53,922.33 551.70,921.00 C552.87,911.68 554.03,910.49 555.20,906.50 C556.33,902.63 557.47,897.24 558.60,896.60 C560.43,895.56 562.27,895.59 564.10,895.00 C566.60,894.20 569.10,892.30 571.60,892.30 C573.77,892.30 575.93,893.40 578.10,893.40 C580.27,893.40 582.43,889.10 584.60,889.10 C586.40,889.10 588.20,891.55 590.00,891.80 C592.17,892.10 594.33,892.30 596.50,892.30 C598.67,892.30 600.83,890.70 603.00,890.70 C605.17,890.70 607.33,893.40 609.50,893.40 C611.63,893.40 613.77,892.23 615.90,891.20 C617.73,890.32 619.57,886.90 621.40,886.90 C623.20,886.90 625.00,893.40 626.80,893.40 C629.30,893.40 631.80,892.98 634.30,892.80 C636.83,892.62 639.37,892.30 641.90,892.30 C643.67,892.30 645.43,895.00 647.20,895.00 C649.33,895.00 651.47,891.80 653.60,891.80 C655.43,891.80 657.27,892.80 659.10,892.80 C660.17,892.80 661.23,891.80 662.30,891.80 C664.83,891.80 667.37,892.04 669.90,892.30 C671.70,892.48 673.50,893.40 675.30,893.40 C678.53,893.40 681.77,889.60 685.00,889.60 C688.60,889.60 692.20,889.60 695.80,889.60 C697.60,889.60 699.40,888.50 701.20,888.50 C703.73,888.50 706.27,889.10 708.80,889.10 C710.97,889.10 713.13,887.40 715.30,887.40 C717.47,887.40 719.63,890.70 721.80,890.70 C724.30,890.70 726.80,889.44 729.30,888.50 C730.40,888.08 731.50,886.90 732.60,886.90 C734.03,886.90 735.47,886.90 736.90,886.90 C737.93,886.90 738.97,889.01 740.00,889.60 C741.80,890.63 743.60,891.80 745.40,891.80 C747.93,891.80 750.47,889.60 753.00,889.60 C754.80,889.60 756.60,893.79 758.40,894.50 C760.57,895.35 762.73,896.10 764.90,896.10 C767.40,896.10 769.90,895.72 772.40,895.00 C773.30,894.74 774.20,892.30 775.10,892.30 C776.73,892.30 778.37,895.13 780.00,895.50 C782.87,896.15 785.73,896.60 788.60,896.60 C790.43,896.60 792.27,895.50 794.10,895.50 C796.23,895.50 798.37,896.60 800.50,896.60 C802.67,896.60 804.83,894.50 807.00,894.50 C809.17,894.50 811.33,894.69 813.50,895.00 C815.13,895.23 816.77,898.20 818.40,898.20 C820.37,898.20 822.33,895.00 824.30,895.00 C826.83,895.00 829.37,895.00 831.90,895.00 C832.93,895.00 833.97,895.30 835.00,895.50 C837.87,896.05 840.73,897.70 843.60,897.70 C845.43,897.70 847.27,895.00 849.10,895.00 C851.23,895.00 853.37,897.20 855.50,897.20 C857.00,897.20 858.50,895.36 860.00,895.00 C862.47,894.41 864.93,893.90 867.40,893.90 C869.20,893.90 871.00,896.10 872.80,896.10 C874.60,896.10 876.40,894.50 878.20,894.50 C881.83,894.50 885.47,894.77 889.10,895.00 C890.90,895.11 892.70,895.50 894.50,895.50 C896.63,895.50 898.77,891.80 900.90,891.80 C903.43,891.80 905.97,893.68 908.50,894.50 C910.83,895.26 913.17,896.60 915.50,896.60 C917.87,896.60 920.23,893.26 922.60,892.80 C925.47,892.24 928.33,891.80 931.20,891.80 C933.67,891.80 936.13,897.70 938.60,897.70 C940.77,897.70 942.93,892.30 945.10,892.30 C947.63,892.30 950.17,894.50 952.70,894.50 C954.87,894.50 957.03,890.70 959.20,890.70 C961.73,890.70 964.27,891.80 966.80,891.80 C971.10,891.80 975.40,889.60 979.70,889.60 C981.50,889.60 983.30,893.40 985.10,893.40 C986.90,893.40 988.70,891.94 990.50,891.20 C993.03,890.15 995.57,888.00 998.10,888.00 C1000.63,888.00 1003.17,889.60 1005.70,889.60 C1007.87,889.60 1010.03,888.00 1012.20,888.00 C1014.70,888.00 1017.20,889.60 1019.70,889.60 C1021.17,889.60 1022.63,886.90 1024.10,886.90 C1026.20,886.90 1028.30,888.87 1030.40,889.60 C1032.93,890.48 1035.47,891.80 1038.00,891.80 C1041.23,891.80 1044.47,888.50 1047.70,888.50 C1049.67,888.50 1051.63,890.70 1053.60,890.70 C1055.60,890.70 1057.60,885.80 1059.60,885.80 C1061.77,885.80 1063.93,888.50 1066.10,888.50 C1068.27,888.50 1070.43,884.70 1072.60,884.70 C1074.40,884.70 1076.20,885.80 1078.00,885.80 C1079.43,885.80 1080.87,883.10 1082.30,883.10 C1084.10,883.10 1085.90,885.80 1087.70,885.80 C1089.13,885.80 1090.57,883.10 1092.00,883.10 C1094.00,883.10 1096.00,889.60 1098.00,889.60 C1100.33,889.60 1102.67,882.60 1105.00,882.60 C1106.80,882.60 1108.60,884.20 1110.40,884.20 C1112.20,884.20 1114.00,879.30 1115.80,879.30 C1117.23,879.30 1118.67,885.30 1120.10,885.30 C1121.50,885.30 1122.90,884.81 1124.30,884.70 C1125.53,884.60 1126.77,884.50 1128.00,884.50 C1129.13,884.50 1130.27,888.50 1131.40,888.50 C1133.37,888.50 1135.33,880.40 1137.30,880.40 C1139.10,880.40 1140.90,885.80 1142.70,885.80 C1143.77,885.80 1144.83,884.20 1145.90,884.20 C1147.73,884.20 1149.57,886.90 1151.40,886.90 C1152.83,886.90 1154.27,883.10 1155.70,883.10 C1156.77,883.10 1157.83,883.32 1158.90,883.60 C1161.07,884.16 1163.23,892.80 1165.40,892.80 C1167.20,892.80 1169.00,884.20 1170.80,884.20 C1172.23,884.20 1173.67,894.69 1175.10,895.00 C1176.57,895.32 1178.03,895.50 1179.50,895.50 C1180.40,895.50 1181.30,887.77 1182.20,886.40 C1183.80,883.96 1185.40,882.00 1187.00,882.00 C1188.47,882.00 1189.93,882.60 1191.40,882.60 C1192.83,882.60 1194.27,881.00 1195.70,881.00 C1197.87,881.00 1200.03,884.20 1202.20,884.20 C1203.63,884.20 1205.07,884.20 1206.50,884.20 C1208.30,884.20 1210.10,884.74 1211.90,885.30 C1213.77,885.88 1215.63,889.00 1217.50,889.00 C1219.33,889.00 1221.17,878.20 1223.00,878.20 C1224.77,878.20 1226.53,886.20 1228.30,886.20 C1229.60,886.20 1230.90,882.80 1232.20,882.80 C1233.77,882.80 1235.33,885.50 1236.90,885.50 C1238.00,885.50 1239.10,881.50 1240.20,881.50 C1242.40,881.50 1244.60,884.20 1246.80,884.20 C1248.13,884.20 1249.47,879.24 1250.80,878.20 C1253.00,876.48 1255.20,874.90 1257.40,874.90 C1259.63,874.90 1261.87,886.20 1264.10,886.20 C1266.30,886.20 1268.50,874.90 1270.70,874.90 C1272.47,874.90 1274.23,880.20 1276.00,880.20 C1278.67,880.20 1281.33,877.54 1284.00,876.20 C1286.63,874.88 1289.27,872.35 1291.90,872.20 C1294.03,872.08 1296.17,872.00 1298.30,872.00 C1299.83,872.00 1301.37,875.20 1302.90,875.20 C1305.00,875.20 1307.10,864.20 1309.20,864.20 C1311.80,864.20 1314.40,870.50 1317.00,870.50 C1318.57,870.50 1320.13,858.81 1321.70,856.40 C1323.80,853.17 1325.90,851.92 1328.00,850.10 C1330.10,848.28 1332.20,846.06 1334.30,845.30 C1336.40,844.54 1338.50,844.23 1340.60,843.80 C1342.07,843.50 1343.53,843.27 1345.00,843.00" stroke="#000000" stroke-width="1.4"/>
<path d="M182.60,540.00 C183.17,553.90 183.73,568.90 184.30,581.70 C185.13,600.52 185.97,616.25 186.80,633.50 C187.63,650.75 188.47,671.10 189.30,685.20 C189.87,694.79 190.43,704.65 191.00,710.00 C191.73,716.92 192.47,719.29 193.20,725.00 C193.93,730.71 194.67,741.73 195.40,745.00 C196.63,750.50 197.87,753.44 199.10,755.30 C200.80,757.87 202.50,758.70 204.20,760.40 C205.70,761.90 207.20,762.18 208.70,764.90 C209.67,766.65 210.63,776.26 211.60,782.60 C212.50,788.50 213.40,801.70 214.30,801.70 C214.87,801.70 215.43,801.70 216.00,801.70 C217.97,801.70 219.93,812.00 221.90,812.00 C223.13,812.00 224.37,812.00 225.60,812.00 C226.60,812.00 227.60,821.78 228.60,822.00 C229.80,822.27 231.00,822.18 232.20,822.40 C234.43,822.82 236.67,830.00 238.90,830.00 C240.13,830.00 241.37,829.10 242.60,828.30 C244.57,827.02 246.53,820.90 248.50,820.90 C250.70,820.90 252.90,833.40 255.10,833.40 C257.30,833.40 259.50,825.39 261.70,819.40 C263.43,814.68 265.17,815.82 266.90,800.20 C267.23,797.20 267.57,742.38 267.90,700.00 C268.20,661.86 268.50,553.50 268.80,545.50 C269.03,539.28 269.27,535.96 269.50,535.00 C270.33,531.57 271.17,530.00 272.00,530.00 C273.37,530.00 274.73,534.90 276.10,545.50 C276.63,549.64 277.17,591.62 277.70,602.80 C277.97,608.39 278.23,615.40 278.50,615.40 C278.87,615.40 279.23,602.80 279.60,602.80 C280.53,602.80 281.47,637.40 282.40,637.40 C283.10,637.40 283.80,617.00 284.50,617.00 C285.27,617.00 286.03,639.51 286.80,643.70 C287.87,649.53 288.93,654.70 290.00,654.70 C291.13,654.70 292.27,624.50 293.40,613.80 C294.33,604.99 295.27,591.80 296.20,591.80 C297.37,591.80 298.53,608.59 299.70,620.10 C301.27,635.56 302.83,672.93 304.40,681.40 C305.70,688.43 307.00,695.00 308.30,695.00 C309.37,695.00 310.43,688.32 311.50,680.00 C311.77,677.92 312.03,671.28 312.30,668.80 C313.87,654.24 315.43,640.50 317.00,640.50 C317.50,640.50 318.00,646.80 318.50,646.80 C319.13,646.80 319.77,627.20 320.40,627.20 C321.10,627.20 321.80,642.10 322.50,642.10 C323.27,642.10 324.03,634.20 324.80,634.20 C325.60,634.20 326.40,658.48 327.20,668.80 C327.97,678.69 328.73,695.70 329.50,695.70 C331.07,695.70 332.63,694.91 334.20,692.60 C334.73,691.81 335.27,671.90 335.80,671.90 C337.37,671.90 338.93,689.34 340.50,700.00 C341.57,707.26 342.63,724.80 343.70,724.80 C344.73,724.80 345.77,703.95 346.80,695.70 C347.87,687.18 348.93,673.50 350.00,673.50 C350.50,673.50 351.00,686.00 351.50,686.00 C352.30,686.00 353.10,670.40 353.90,670.40 C354.93,670.40 355.97,673.49 357.00,676.60 C357.80,679.00 358.60,686.84 359.40,690.00 C360.97,696.18 362.53,695.40 364.10,703.60 C365.13,709.01 366.17,734.12 367.20,758.50 C368.00,777.38 368.80,817.81 369.60,840.00 C369.90,848.32 370.20,860.78 370.50,862.00 C371.47,865.94 372.43,867.40 373.40,867.40 C374.27,867.40 375.13,864.30 376.00,864.30 C377.53,864.30 379.07,869.87 380.60,870.50 C381.97,871.06 383.33,871.22 384.70,871.50 C386.77,871.93 388.83,872.60 390.90,872.60 C392.63,872.60 394.37,869.92 396.10,869.50 C398.40,868.95 400.70,868.99 403.00,868.50 C404.83,868.11 406.67,866.40 408.50,866.40 C410.33,866.40 412.17,867.80 414.00,868.50 C416.63,869.50 419.27,871.05 421.90,871.50 C425.33,872.09 428.77,872.21 432.20,872.60 C434.93,872.91 437.67,873.60 440.40,873.60 C443.17,873.60 445.93,870.40 448.70,868.50 C450.07,867.56 451.43,866.59 452.80,865.40 C454.17,864.21 455.53,861.20 456.90,861.20 C457.33,861.20 457.77,861.37 458.20,861.50 C459.67,861.95 461.13,864.20 462.60,864.20 C464.03,864.20 465.47,859.30 466.90,859.30 C468.33,859.30 469.77,859.95 471.20,860.40 C473.00,860.96 474.80,861.96 476.60,862.60 C478.07,863.12 479.53,863.46 481.00,864.00 C482.80,864.66 484.60,866.40 486.40,866.40 C487.83,866.40 489.27,855.00 490.70,855.00 C492.50,855.00 494.30,863.25 496.10,864.70 C498.27,866.45 500.43,866.92 502.60,868.00 C504.03,868.71 505.47,870.10 506.90,870.10 C509.07,870.10 511.23,868.00 513.40,868.00 C514.83,868.00 516.27,872.30 517.70,872.30 C519.50,872.30 521.30,862.60 523.10,862.60 C524.90,862.60 526.70,863.82 528.50,864.70 C530.67,865.76 532.83,869.10 535.00,869.10 C536.43,869.10 537.87,864.70 539.30,864.70 C540.87,864.70 542.43,865.61 544.00,866.50 C545.70,867.47 547.40,869.24 549.10,872.30 C550.47,874.76 551.83,888.50 553.20,888.50 C554.47,888.50 555.73,883.33 557.00,882.00 C557.90,881.06 558.80,880.24 559.70,879.90 C560.97,879.43 562.23,879.00 563.50,879.00 C564.40,879.00 565.30,881.50 566.20,881.50 C568.00,881.50 569.80,875.50 571.60,875.50 C573.77,875.50 575.93,881.00 578.10,881.00 C580.27,881.00 582.43,875.50 584.60,875.50 C586.40,875.50 588.20,878.02 590.00,879.00 C592.17,880.17 594.33,882.00 596.50,882.00 C598.30,882.00 600.10,881.00 601.90,881.00 C604.07,881.00 606.23,883.00 608.40,883.00 C610.57,883.00 612.73,871.00 614.90,871.00 C615.97,871.00 617.03,873.40 618.10,873.40 C619.20,873.40 620.30,866.00 621.40,866.00 C623.53,866.00 625.67,879.90 627.80,879.90 C629.97,879.90 632.13,874.50 634.30,874.50 C636.10,874.50 637.90,880.00 639.70,880.00 C641.47,880.00 643.23,875.50 645.00,875.50 C648.60,875.50 652.20,878.80 655.80,878.80 C657.97,878.80 660.13,873.90 662.30,873.90 C664.83,873.90 667.37,874.84 669.90,876.00 C671.33,876.66 672.77,880.40 674.20,880.40 C676.73,880.40 679.27,879.04 681.80,877.70 C683.23,876.94 684.67,874.73 686.10,873.90 C688.27,872.64 690.43,871.20 692.60,871.20 C695.47,871.20 698.33,872.51 701.20,872.80 C704.10,873.09 707.00,873.40 709.90,873.40 C711.70,873.40 713.50,868.00 715.30,868.00 C717.10,868.00 718.90,873.90 720.70,873.90 C723.57,873.90 726.43,873.90 729.30,873.90 C732.90,873.90 736.50,871.20 740.10,871.20 C741.87,871.20 743.63,877.70 745.40,877.70 C748.30,877.70 751.20,873.40 754.10,873.40 C756.60,873.40 759.10,883.10 761.60,883.10 C764.50,883.10 767.40,882.13 770.30,881.00 C772.10,880.30 773.90,876.60 775.70,876.60 C777.50,876.60 779.30,878.85 781.10,879.90 C784.33,881.79 787.57,885.30 790.80,885.30 C794.03,885.30 797.27,884.56 800.50,883.60 C802.30,883.07 804.10,880.40 805.90,879.90 C808.07,879.30 810.23,878.80 812.40,878.80 C814.57,878.80 816.73,886.40 818.90,886.40 C820.70,886.40 822.50,883.30 824.30,882.60 C827.20,881.48 830.10,880.40 833.00,880.40 C835.00,880.40 837.00,883.09 839.00,885.00 C840.53,886.47 842.07,890.70 843.60,890.70 C845.43,890.70 847.27,880.90 849.10,880.90 C851.60,880.90 854.10,884.20 856.60,884.20 C857.70,884.20 858.80,881.53 859.90,881.00 C862.40,879.79 864.90,878.80 867.40,878.80 C869.57,878.80 871.73,883.74 873.90,884.20 C877.13,884.88 880.37,885.30 883.60,885.30 C886.13,885.30 888.67,881.50 891.20,881.50 C892.63,881.50 894.07,883.60 895.50,883.60 C896.97,883.60 898.43,878.80 899.90,878.80 C902.07,878.80 904.23,882.60 906.40,883.60 C909.27,884.92 912.13,886.40 915.00,886.40 C918.23,886.40 921.47,880.29 924.70,878.80 C926.87,877.80 929.03,876.60 931.20,876.60 C933.67,876.60 936.13,885.30 938.60,885.30 C940.77,885.30 942.93,875.50 945.10,875.50 C947.27,875.50 949.43,883.10 951.60,883.10 C954.13,883.10 956.67,875.50 959.20,875.50 C961.00,875.50 962.80,878.43 964.60,878.80 C967.83,879.46 971.07,879.90 974.30,879.90 C976.47,879.90 978.63,873.40 980.80,873.40 C982.60,873.40 984.40,883.10 986.20,883.10 C988.00,883.10 989.80,878.57 991.60,876.60 C993.40,874.63 995.20,871.20 997.00,871.20 C999.53,871.20 1002.07,878.80 1004.60,878.80 C1007.47,878.80 1010.33,871.20 1013.20,871.20 C1016.10,871.20 1019.00,875.34 1021.90,876.60 C1022.93,877.05 1023.97,877.21 1025.00,877.70 C1026.43,878.38 1027.87,881.00 1029.30,881.00 C1031.10,881.00 1032.90,877.70 1034.70,877.70 C1035.97,877.70 1037.23,882.60 1038.50,882.60 C1039.77,882.60 1041.03,880.32 1042.30,879.30 C1044.47,877.56 1046.63,874.50 1048.80,874.50 C1050.60,874.50 1052.40,881.00 1054.20,881.00 C1056.00,881.00 1057.80,872.30 1059.60,872.30 C1061.77,872.30 1063.93,879.90 1066.10,879.90 C1068.27,879.90 1070.43,877.85 1072.60,876.60 C1076.20,874.52 1079.80,869.10 1083.40,869.10 C1085.20,869.10 1087.00,876.60 1088.80,876.60 C1090.20,876.60 1091.60,876.60 1093.00,876.60 C1094.67,876.60 1096.33,885.30 1098.00,885.30 C1100.33,885.30 1102.67,866.83 1105.00,865.80 C1106.43,865.17 1107.87,865.20 1109.30,864.70 C1111.10,864.07 1112.90,861.50 1114.70,861.50 C1116.87,861.50 1119.03,875.50 1121.20,875.50 C1122.47,875.50 1123.73,875.00 1125.00,875.00 C1126.93,875.00 1128.87,878.80 1130.80,878.80 C1132.87,878.80 1134.93,877.00 1137.00,877.00 C1138.90,877.00 1140.80,884.20 1142.70,884.20 C1145.60,884.20 1148.50,876.60 1151.40,876.60 C1152.93,876.60 1154.47,876.60 1156.00,876.60 C1157.70,876.60 1159.40,877.52 1161.10,878.80 C1162.53,879.88 1163.97,889.60 1165.40,889.60 C1167.57,889.60 1169.73,878.80 1171.90,878.80 C1173.70,878.80 1175.50,884.20 1177.30,884.20 C1180.20,884.20 1183.10,869.10 1186.00,869.10 C1188.87,869.10 1191.73,871.31 1194.60,873.40 C1196.40,874.71 1198.20,879.46 1200.00,879.90 C1202.87,880.61 1205.73,881.00 1208.60,881.00 C1210.77,881.00 1212.93,878.02 1215.10,876.60 C1217.73,874.88 1220.37,871.60 1223.00,871.60 C1224.77,871.60 1226.53,882.80 1228.30,882.80 C1230.07,882.80 1231.83,874.16 1233.60,872.90 C1236.23,871.02 1238.87,869.60 1241.50,869.60 C1242.83,869.60 1244.17,881.50 1245.50,881.50 C1248.17,881.50 1250.83,864.90 1253.50,864.90 C1255.27,864.90 1257.03,867.35 1258.80,869.60 C1260.57,871.85 1262.33,881.50 1264.10,881.50 C1266.30,881.50 1268.50,869.60 1270.70,869.60 C1272.47,869.60 1274.23,877.50 1276.00,877.50 C1277.33,877.50 1278.67,868.90 1280.00,868.90 C1281.77,868.90 1283.53,870.90 1285.30,870.90 C1287.50,870.90 1289.70,867.98 1291.90,867.60 C1294.13,867.21 1296.37,867.25 1298.60,866.90 C1300.13,866.66 1301.67,866.24 1303.20,865.60 C1305.20,864.76 1307.20,860.30 1309.20,860.30 C1311.13,860.30 1313.07,866.90 1315.00,866.90 C1315.67,866.90 1316.33,866.40 1317.00,865.80 C1318.57,864.40 1320.13,847.28 1321.70,842.20 C1322.77,838.74 1323.83,835.24 1324.90,834.30 C1327.00,832.44 1329.10,831.20 1331.20,831.20 C1332.77,831.20 1334.33,842.20 1335.90,842.20 C1337.47,842.20 1339.03,836.71 1340.60,824.90 C1341.27,819.87 1341.93,749.50 1342.60,749.50 C1342.93,749.50 1343.27,846.95 1343.60,850.00 C1344.40,857.33 1345.20,856.67 1346.00,860.00" stroke="#999999" stroke-width="1.2"/>
<path d="M183.00,540.00 C183.13,541.93 183.27,543.59 183.40,545.80 C183.97,555.18 184.53,569.84 185.10,581.70 C185.93,599.14 186.77,616.25 187.60,633.50 C188.43,650.75 189.27,670.20 190.10,685.20 C190.40,690.60 190.70,696.60 191.00,700.00 C191.73,708.32 192.47,710.63 193.20,717.70 C193.93,724.77 194.67,739.00 195.40,744.20 C196.47,751.77 197.53,759.70 198.60,759.70 C199.50,759.70 200.40,739.47 201.30,734.60 C202.27,729.37 203.23,723.60 204.20,723.60 C205.20,723.60 206.20,729.91 207.20,733.90 C207.93,736.83 208.67,738.79 209.40,744.20 C210.13,749.61 210.87,775.11 211.60,782.60 C212.50,791.79 213.40,801.70 214.30,801.70 C215.37,801.70 216.43,775.90 217.50,775.90 C218.23,775.90 218.97,781.06 219.70,784.00 C220.70,788.00 221.70,793.70 222.70,797.30 C223.67,800.78 224.63,802.47 225.60,806.10 C226.60,809.85 227.60,820.90 228.60,820.90 C230.30,820.90 232.00,815.00 233.70,815.00 C235.43,815.00 237.17,833.40 238.90,833.40 C240.13,833.40 241.37,830.40 242.60,828.30 C245.03,824.15 247.47,810.60 249.90,810.60 C251.40,810.60 252.90,820.90 254.40,820.90 C255.37,820.90 256.33,813.50 257.30,813.50 C258.77,813.50 260.23,820.20 261.70,820.20 C262.20,820.20 262.70,815.90 263.20,815.00 C263.60,814.28 264.00,814.38 264.40,813.50 C264.97,812.25 265.53,799.21 266.10,788.50 C266.30,784.72 266.50,779.92 266.70,774.20 C267.23,758.95 267.77,732.33 268.30,711.40 C268.57,700.93 268.83,696.97 269.10,680.00 C269.37,663.03 269.63,559.55 269.90,545.50 C270.00,540.23 270.10,535.32 270.20,535.00 C274.47,521.23 278.73,520.00 283.00,520.00 C287.33,520.00 291.67,527.11 296.00,540.00 C296.30,540.89 296.60,543.43 296.90,545.50 C297.57,550.09 298.23,562.00 298.90,562.00 C299.70,562.00 300.50,551.44 301.30,545.50 C301.53,543.77 301.77,540.00 302.00,540.00 C302.17,540.00 302.33,543.59 302.50,545.50 C302.87,549.70 303.23,555.98 303.60,558.80 C304.40,564.96 305.20,563.72 306.00,571.40 C306.37,574.92 306.73,601.30 307.10,601.30 C307.77,601.30 308.43,598.65 309.10,596.50 C310.17,593.06 311.23,586.04 312.30,579.30 C312.70,576.77 313.10,574.26 313.50,570.60 C314.13,564.80 314.77,549.53 315.40,545.50 C316.27,539.99 317.13,535.00 318.00,535.00 C320.00,535.00 322.00,537.61 324.00,545.50 C324.53,547.60 325.07,571.77 325.60,587.10 C326.40,610.10 327.20,633.04 328.00,665.60 C328.50,685.95 329.00,742.80 329.50,742.80 C330.30,742.80 331.10,712.04 331.90,687.90 C332.27,676.83 332.63,643.70 333.00,643.70 C333.43,643.70 333.87,656.20 334.30,656.20 C335.33,656.20 336.37,619.05 337.40,602.80 C337.93,594.41 338.47,584.06 339.00,579.30 C339.40,575.73 339.80,571.40 340.20,571.40 C340.83,571.40 341.47,579.54 342.10,587.10 C342.90,596.64 343.70,628.01 344.50,642.10 C345.27,655.61 346.03,659.81 346.80,675.10 C347.07,680.42 347.33,697.30 347.60,697.30 C348.13,697.30 348.67,642.97 349.20,634.20 C349.70,625.98 350.20,626.96 350.70,618.50 C351.23,609.48 351.77,553.09 352.30,545.50 C352.70,539.81 353.10,535.00 353.50,535.00 C353.90,535.00 354.30,540.28 354.70,545.50 C355.20,552.03 355.70,571.05 356.20,587.10 C357.07,614.93 357.93,663.02 358.80,690.00 C359.27,704.53 359.73,727.10 360.20,727.10 C361.23,727.10 362.27,705.06 363.30,687.90 C364.10,674.61 364.90,631.90 365.70,631.90 C365.93,631.90 366.17,668.94 366.40,680.00 C367.20,717.92 368.00,731.23 368.80,758.50 C368.93,763.05 369.07,767.03 369.20,772.50 C369.73,794.40 370.27,848.60 370.80,861.20 C371.30,873.02 371.80,883.90 372.30,883.90 C372.83,883.90 373.37,869.50 373.90,869.50 C375.47,869.50 377.03,879.80 378.60,879.80 C379.60,879.80 380.60,866.22 381.60,863.30 C382.83,859.69 384.07,856.10 385.30,856.10 C385.97,856.10 386.63,859.74 387.30,862.30 C388.33,866.27 389.37,878.80 390.40,878.80 C392.30,878.80 394.20,868.50 396.10,868.50 C397.13,868.50 398.17,869.50 399.20,869.50 C399.87,869.50 400.53,865.40 401.20,865.40 C401.90,865.40 402.60,867.40 403.30,867.40 C404.17,867.40 405.03,860.70 405.90,860.70 C406.77,860.70 407.63,862.43 408.50,863.30 C409.87,864.67 411.23,867.40 412.60,867.40 C413.27,867.40 413.93,863.30 414.60,863.30 C415.63,863.30 416.67,866.89 417.70,868.50 C419.10,870.69 420.50,874.60 421.90,874.60 C422.93,874.60 423.97,870.95 425.00,869.50 C425.83,868.33 426.67,866.40 427.50,866.40 C428.70,866.40 429.90,867.61 431.10,868.50 C431.80,869.02 432.50,869.61 433.20,870.50 C434.40,872.03 435.60,878.20 436.80,878.20 C438.00,878.20 439.20,870.50 440.40,870.50 C442.13,870.50 443.87,876.70 445.60,876.70 C446.97,876.70 448.33,867.82 449.70,864.30 C451.07,860.78 452.43,857.81 453.80,855.10 C455.17,852.39 456.53,847.80 457.90,847.80 C458.73,847.80 459.57,848.08 460.40,848.50 C461.30,848.95 462.20,853.27 463.10,856.10 C464.20,859.56 465.30,868.00 466.40,868.00 C467.47,868.00 468.53,866.84 469.60,865.80 C470.67,864.76 471.73,860.40 472.80,860.40 C473.53,860.40 474.27,862.60 475.00,862.60 C475.90,862.60 476.80,851.80 477.70,851.80 C478.23,851.80 478.77,856.10 479.30,856.10 C480.20,856.10 481.10,854.79 482.00,853.90 C482.73,853.18 483.47,851.73 484.20,851.20 C485.27,850.42 486.33,850.42 487.40,849.60 C488.13,849.04 488.87,847.87 489.60,846.40 C490.13,845.33 490.67,841.50 491.20,841.50 C491.57,841.50 491.93,847.30 492.30,848.50 C493.20,851.46 494.10,851.11 495.00,853.90 C495.73,856.18 496.47,868.00 497.20,868.00 C497.73,868.00 498.27,864.70 498.80,864.70 C499.70,864.70 500.60,871.20 501.50,871.20 C502.57,871.20 503.63,858.20 504.70,858.20 C505.43,858.20 506.17,859.91 506.90,860.40 C507.63,860.89 508.37,860.84 509.10,861.50 C509.80,862.13 510.50,870.10 511.20,870.10 C511.93,870.10 512.67,870.10 513.40,870.10 C514.30,870.10 515.20,877.70 516.10,877.70 C517.00,877.70 517.90,864.14 518.80,860.40 C519.87,855.97 520.93,850.70 522.00,850.70 C522.73,850.70 523.47,855.24 524.20,858.20 C524.93,861.16 525.67,867.32 526.40,869.10 C527.83,872.58 529.27,873.94 530.70,875.50 C531.97,876.88 533.23,878.80 534.50,878.80 C536.47,878.80 538.43,862.60 540.40,862.60 C541.13,862.60 541.87,869.10 542.60,869.10 C543.13,869.10 543.67,865.80 544.20,865.80 C545.47,865.80 546.73,867.23 548.00,869.10 C549.43,871.22 550.87,892.80 552.30,892.80 C553.17,892.80 554.03,892.80 554.90,892.80 C556.50,892.80 558.10,881.09 559.70,879.90 C560.97,878.95 562.23,878.20 563.50,878.20 C564.40,878.20 565.30,881.50 566.20,881.50 C568.00,881.50 569.80,874.50 571.60,874.50 C573.77,874.50 575.93,881.00 578.10,881.00 C580.27,881.00 582.43,874.50 584.60,874.50 C586.40,874.50 588.20,877.80 590.00,878.80 C591.63,879.71 593.27,879.66 594.90,880.90 C595.43,881.31 595.97,883.60 596.50,883.60 C598.30,883.60 600.10,882.00 601.90,882.00 C604.07,882.00 606.23,884.20 608.40,884.20 C610.57,884.20 612.73,869.10 614.90,869.10 C615.80,869.10 616.70,870.10 617.60,870.10 C618.87,870.10 620.13,862.60 621.40,862.60 C622.47,862.60 623.53,866.84 624.60,870.10 C625.67,873.36 626.73,884.20 627.80,884.20 C628.90,884.20 630.00,877.09 631.10,875.50 C632.17,873.96 633.23,872.30 634.30,872.30 C634.83,872.30 635.37,876.73 635.90,877.70 C637.17,880.00 638.43,882.00 639.70,882.00 C640.80,882.00 641.90,877.70 643.00,877.70 C644.57,877.70 646.13,878.80 647.70,878.80 C648.23,878.80 648.77,874.50 649.30,874.50 C649.67,874.50 650.03,879.90 650.40,879.90 C652.20,879.90 654.00,873.16 655.80,871.20 C657.07,869.82 658.33,868.00 659.60,868.00 C661.03,868.00 662.47,869.18 663.90,871.20 C664.43,871.95 664.97,877.70 665.50,877.70 C666.97,877.70 668.43,875.12 669.90,873.40 C670.43,872.77 670.97,871.20 671.50,871.20 C672.03,871.20 672.57,876.60 673.10,876.60 C674.20,876.60 675.30,875.51 676.40,874.50 C677.83,873.19 679.27,866.90 680.70,866.90 C681.77,866.90 682.83,869.10 683.90,869.10 C685.33,869.10 686.77,868.00 688.20,868.00 C689.30,868.00 690.40,870.12 691.50,871.20 C692.93,872.61 694.37,875.50 695.80,875.50 C697.07,875.50 698.33,865.30 699.60,865.30 C700.87,865.30 702.13,866.90 703.40,866.90 C704.83,866.90 706.27,865.80 707.70,865.80 C708.80,865.80 709.90,873.90 711.00,873.90 C713.50,873.90 716.00,866.90 718.50,866.90 C721.03,866.90 723.57,875.50 726.10,875.50 C727.17,875.50 728.23,874.66 729.30,873.90 C730.73,872.87 732.17,868.00 733.60,868.00 C735.07,868.00 736.53,871.20 738.00,871.20 C740.10,871.20 742.20,867.79 744.30,867.40 C745.73,867.13 747.17,866.90 748.60,866.90 C749.33,866.90 750.07,873.90 750.80,873.90 C751.53,873.90 752.27,866.40 753.00,866.40 C754.07,866.40 755.13,867.85 756.20,869.10 C757.30,870.39 758.40,874.27 759.50,875.50 C760.93,877.11 762.37,877.05 763.80,878.80 C764.50,879.65 765.20,883.60 765.90,883.60 C766.80,883.60 767.70,878.16 768.60,876.60 C769.87,874.41 771.13,871.80 772.40,871.80 C773.50,871.80 774.60,877.70 775.70,877.70 C776.77,877.70 777.83,877.20 778.90,876.60 C780.33,875.79 781.77,868.50 783.20,868.50 C784.30,868.50 785.40,872.88 786.50,873.90 C788.30,875.56 790.10,877.20 791.90,877.20 C794.23,877.20 796.57,873.40 798.90,873.40 C800.17,873.40 801.43,879.90 802.70,879.90 C804.13,879.90 805.57,875.54 807.00,874.50 C808.80,873.19 810.60,871.80 812.40,871.80 C813.50,871.80 814.60,874.14 815.70,876.60 C816.40,878.16 817.10,885.30 817.80,885.30 C819.27,885.30 820.73,874.50 822.20,874.50 C824.00,874.50 825.80,882.00 827.60,882.00 C829.40,882.00 831.20,878.20 833.00,878.20 C833.67,878.20 834.33,879.24 835.00,879.90 C836.43,881.32 837.87,883.70 839.30,885.30 C840.73,886.90 842.17,889.60 843.60,889.60 C845.43,889.60 847.27,872.30 849.10,872.30 C850.17,872.30 851.23,872.87 852.30,873.40 C853.73,874.12 855.17,877.70 856.60,877.70 C857.87,877.70 859.13,868.50 860.40,868.50 C861.47,868.50 862.53,869.21 863.60,870.10 C864.33,870.71 865.07,874.50 865.80,874.50 C866.90,874.50 868.00,873.90 869.10,873.90 C871.07,873.90 873.03,886.40 875.00,886.40 C876.80,886.40 878.60,883.74 880.40,883.10 C881.83,882.59 883.27,882.63 884.70,882.00 C886.87,881.05 889.03,866.90 891.20,866.90 C892.10,866.90 893.00,876.60 893.90,876.60 C895.53,876.60 897.17,872.80 898.80,872.80 C900.23,872.80 901.67,874.88 903.10,876.60 C904.37,878.12 905.63,883.60 906.90,883.60 C908.87,883.60 910.83,877.70 912.80,877.70 C913.70,877.70 914.60,882.60 915.50,882.60 C916.97,882.60 918.43,872.48 919.90,870.10 C920.80,868.64 921.70,867.30 922.60,866.90 C924.03,866.27 925.47,865.80 926.90,865.80 C928.33,865.80 929.77,866.16 931.20,866.90 C931.87,867.25 932.53,870.63 933.20,872.30 C934.30,875.05 935.40,879.90 936.50,879.90 C937.57,879.90 938.63,879.39 939.70,878.80 C940.80,878.19 941.90,875.96 943.00,873.90 C944.07,871.90 945.13,865.80 946.20,865.80 C947.30,865.80 948.40,871.61 949.50,874.50 C950.73,877.74 951.97,884.20 953.20,884.20 C954.10,884.20 955.00,878.56 955.90,875.50 C956.80,872.44 957.70,865.80 958.60,865.80 C959.70,865.80 960.80,875.07 961.90,876.60 C963.17,878.36 964.43,878.56 965.70,879.90 C966.77,881.03 967.83,884.20 968.90,884.20 C970.33,884.20 971.77,876.07 973.20,873.40 C974.67,870.67 976.13,869.42 977.60,866.90 C978.50,865.35 979.40,861.50 980.30,861.50 C981.20,861.50 982.10,866.44 983.00,868.00 C984.07,869.85 985.13,870.77 986.20,872.30 C987.83,874.64 989.47,879.90 991.10,879.90 C992.37,879.90 993.63,870.43 994.90,866.90 C995.97,863.92 997.03,860.37 998.10,859.30 C999.20,858.19 1000.30,857.20 1001.40,857.20 C1003.00,857.20 1004.60,875.50 1006.20,875.50 C1007.47,875.50 1008.73,864.44 1010.00,860.40 C1011.07,857.00 1012.13,851.80 1013.20,851.80 C1014.30,851.80 1015.40,856.57 1016.50,859.30 C1017.93,862.86 1019.37,869.48 1020.80,871.20 C1022.23,872.92 1023.67,874.50 1025.10,874.50 C1026.50,874.50 1027.90,870.10 1029.30,870.10 C1030.20,870.10 1031.10,870.55 1032.00,871.20 C1032.90,871.85 1033.80,879.90 1034.70,879.90 C1035.80,879.90 1036.90,878.62 1038.00,877.20 C1038.70,876.30 1039.40,871.80 1040.10,871.80 C1041.00,871.80 1041.90,873.90 1042.80,873.90 C1044.43,873.90 1046.07,868.00 1047.70,868.00 C1049.13,868.00 1050.57,870.70 1052.00,870.70 C1052.90,870.70 1053.80,868.00 1054.70,868.00 C1055.97,868.00 1057.23,871.80 1058.50,871.80 C1060.13,871.80 1061.77,861.00 1063.40,861.00 C1064.67,861.00 1065.93,872.30 1067.20,872.30 C1068.27,872.30 1069.33,865.44 1070.40,862.60 C1071.47,859.76 1072.53,855.00 1073.60,855.00 C1074.53,855.00 1075.47,864.70 1076.40,864.70 C1076.93,864.70 1077.47,857.86 1078.00,856.10 C1079.60,850.81 1081.20,845.80 1082.80,845.80 C1083.37,845.80 1083.93,846.57 1084.50,847.40 C1086.10,849.76 1087.70,879.30 1089.30,879.30 C1090.73,879.30 1092.17,866.75 1093.60,865.80 C1094.53,865.18 1095.47,864.70 1096.40,864.70 C1097.10,864.70 1097.80,871.20 1098.50,871.20 C1099.60,871.20 1100.70,860.08 1101.80,859.30 C1102.70,858.66 1103.60,858.20 1104.50,858.20 C1105.03,858.20 1105.57,860.91 1106.10,862.60 C1107.37,866.62 1108.63,877.70 1109.90,877.70 C1110.80,877.70 1111.70,871.88 1112.60,870.10 C1113.67,867.99 1114.73,865.30 1115.80,865.30 C1117.23,865.30 1118.67,875.50 1120.10,875.50 C1121.13,875.50 1122.17,870.10 1123.20,870.10 C1123.77,870.10 1124.33,876.10 1124.90,876.10 C1125.60,876.10 1126.30,869.10 1127.00,869.10 C1127.90,869.10 1128.80,871.12 1129.70,872.30 C1130.80,873.74 1131.90,877.20 1133.00,877.20 C1134.43,877.20 1135.87,871.20 1137.30,871.20 C1138.73,871.20 1140.17,883.10 1141.60,883.10 C1142.50,883.10 1143.40,868.95 1144.30,865.80 C1145.20,862.65 1146.10,859.30 1147.00,859.30 C1148.27,859.30 1149.53,869.09 1150.80,871.20 C1152.07,873.31 1153.33,873.64 1154.60,875.50 C1155.50,876.82 1156.40,880.90 1157.30,880.90 C1158.20,880.90 1159.10,876.52 1160.00,876.10 C1160.73,875.76 1161.47,875.50 1162.20,875.50 C1163.43,875.50 1164.67,898.20 1165.90,898.20 C1167.17,898.20 1168.43,885.30 1169.70,885.30 C1170.97,885.30 1172.23,889.60 1173.50,889.60 C1174.40,889.60 1175.30,882.88 1176.20,879.90 C1178.00,873.94 1179.80,868.43 1181.60,863.60 C1182.70,860.65 1183.80,855.50 1184.90,855.50 C1185.97,855.50 1187.03,870.10 1188.10,870.10 C1188.83,870.10 1189.57,864.70 1190.30,864.70 C1191.73,864.70 1193.17,864.89 1194.60,865.30 C1195.67,865.61 1196.73,886.72 1197.80,887.40 C1198.90,888.10 1200.00,888.50 1201.10,888.50 C1202.17,888.50 1203.23,868.00 1204.30,868.00 C1205.03,868.00 1205.77,870.97 1206.50,872.30 C1207.57,874.24 1208.63,877.10 1209.70,877.70 C1210.80,878.31 1211.90,878.21 1213.00,878.80 C1214.57,879.64 1216.13,886.80 1217.70,886.80 C1218.80,886.80 1219.90,881.50 1221.00,881.50 C1222.10,881.50 1223.20,889.50 1224.30,889.50 C1225.63,889.50 1226.97,888.99 1228.30,888.10 C1229.17,887.52 1230.03,881.10 1230.90,880.20 C1232.47,878.58 1234.03,877.50 1235.60,877.50 C1236.47,877.50 1237.33,882.80 1238.20,882.80 C1239.10,882.80 1240.00,878.90 1240.90,878.90 C1242.20,878.90 1243.50,890.80 1244.80,890.80 C1245.93,890.80 1247.07,878.28 1248.20,869.60 C1249.07,862.96 1249.93,844.40 1250.80,844.40 C1251.70,844.40 1252.60,844.86 1253.50,845.70 C1254.17,846.32 1254.83,856.92 1255.50,857.60 C1256.37,858.49 1257.23,858.19 1258.10,859.00 C1259.43,860.24 1260.77,880.06 1262.10,882.80 C1262.77,884.17 1263.43,885.50 1264.10,885.50 C1265.63,885.50 1267.17,859.60 1268.70,859.60 C1269.80,859.60 1270.90,867.34 1272.00,872.20 C1273.57,879.12 1275.13,897.40 1276.70,897.40 C1277.37,897.40 1278.03,885.50 1278.70,885.50 C1280.47,885.50 1282.23,896.10 1284.00,896.10 C1285.10,896.10 1286.20,881.74 1287.30,874.90 C1288.40,868.06 1289.50,855.00 1290.60,855.00 C1291.47,855.00 1292.33,863.02 1293.20,866.90 C1294.43,872.43 1295.67,883.10 1296.90,883.10 C1298.37,883.10 1299.83,846.40 1301.30,843.80 C1302.33,841.97 1303.37,840.60 1304.40,840.60 C1305.47,840.60 1306.53,850.73 1307.60,854.80 C1308.37,857.73 1309.13,860.45 1309.90,862.60 C1311.50,867.08 1313.10,873.60 1314.70,873.60 C1315.47,873.60 1316.23,871.44 1317.00,868.90 C1318.07,865.37 1319.13,846.62 1320.20,834.30 C1320.97,825.44 1321.73,806.00 1322.50,806.00 C1323.57,806.00 1324.63,825.56 1325.70,831.20 C1326.47,835.26 1327.23,840.60 1328.00,840.60 C1329.33,840.60 1330.67,820.20 1332.00,820.20 C1332.77,820.20 1333.53,824.45 1334.30,828.10 C1335.37,833.18 1336.43,854.80 1337.50,854.80 C1338.53,854.80 1339.57,846.78 1340.60,834.30 C1341.13,827.86 1341.67,776.20 1342.20,776.20 C1342.60,776.20 1343.00,891.66 1343.40,895.00 C1344.27,902.24 1345.13,901.67 1346.00,905.00" stroke="#0f56c0" stroke-width="1.4"/>
</g>
<g stroke="#1a1a1a" stroke-width="1.1" fill="none">
<rect x="123.4" y="20.4" width="1220.3" height="375.6" fill="none" stroke="#1a1a1a" stroke-width="1.1"/>
<line x1="126.44" y1="396.0" x2="126.44" y2="392.1"/>
<line x1="126.44" y1="20.4" x2="126.44" y2="24.299999999999997"/>
<line x1="146.88" y1="396.0" x2="146.88" y2="392.1"/>
<line x1="146.88" y1="20.4" x2="146.88" y2="24.299999999999997"/>
<line x1="167.31" y1="396.0" x2="167.31" y2="392.1"/>
<line x1="167.31" y1="20.4" x2="167.31" y2="24.299999999999997"/>
<line x1="187.74" y1="396.0" x2="187.74" y2="392.1"/>
<line x1="187.74" y1="20.4" x2="187.74" y2="24.299999999999997"/>
<line x1="208.17" y1="396.0" x2="208.17" y2="392.1"/>
<line x1="208.17" y1="20.4" x2="208.17" y2="24.299999999999997"/>
<line x1="228.60" y1="396.0" x2="228.60" y2="392.1"/>
<line x1="228.60" y1="20.4" x2="228.60" y2="24.299999999999997"/>
<line x1="249.04" y1="396.0" x2="249.04" y2="392.1"/>
<line x1="249.04" y1="20.4" x2="249.04" y2="24.299999999999997"/>
<line x1="269.47" y1="396.0" x2="269.47" y2="392.1"/>
<line x1="269.47" y1="20.4" x2="269.47" y2="24.299999999999997"/>
<line x1="289.90" y1="396.0" x2="289.90" y2="388.4"/>
<line x1="289.90" y1="20.4" x2="289.90" y2="28.0"/>
<line x1="310.33" y1="396.0" x2="310.33" y2="392.1"/>
<line x1="310.33" y1="20.4" x2="310.33" y2="24.299999999999997"/>
<line x1="330.76" y1="396.0" x2="330.76" y2="392.1"/>
<line x1="330.76" y1="20.4" x2="330.76" y2="24.299999999999997"/>
<line x1="351.20" y1="396.0" x2="351.20" y2="392.1"/>
<line x1="351.20" y1="20.4" x2="351.20" y2="24.299999999999997"/>
<line x1="371.63" y1="396.0" x2="371.63" y2="392.1"/>
<line x1="371.63" y1="20.4" x2="371.63" y2="24.299999999999997"/>
<line x1="392.06" y1="396.0" x2="392.06" y2="392.1"/>
<line x1="392.06" y1="20.4" x2="392.06" y2="24.299999999999997"/>
<line x1="412.49" y1="396.0" x2="412.49" y2="392.1"/>
<line x1="412.49" y1="20.4" x2="412.49" y2="24.299999999999997"/>
<line x1="432.92" y1="396.0" x2="432.92" y2="392.1"/>
<line x1="432.92" y1="20.4" x2="432.92" y2="24.299999999999997"/>
<line x1="453.36" y1="396.0" x2="453.36" y2="392.1"/>
<line x1="453.36" y1="20.4" x2="453.36" y2="24.299999999999997"/>
<line x1="473.79" y1="396.0" x2="473.79" y2="392.1"/>
<line x1="473.79" y1="20.4" x2="473.79" y2="24.299999999999997"/>
<line x1="494.22" y1="396.0" x2="494.22" y2="388.4"/>
<line x1="494.22" y1="20.4" x2="494.22" y2="28.0"/>
<line x1="514.65" y1="396.0" x2="514.65" y2="392.1"/>
<line x1="514.65" y1="20.4" x2="514.65" y2="24.299999999999997"/>
<line x1="535.08" y1="396.0" x2="535.08" y2="392.1"/>
<line x1="535.08" y1="20.4" x2="535.08" y2="24.299999999999997"/>
<line x1="555.52" y1="396.0" x2="555.52" y2="392.1"/>
<line x1="555.52" y1="20.4" x2="555.52" y2="24.299999999999997"/>
<line x1="575.95" y1="396.0" x2="575.95" y2="392.1"/>
<line x1="575.95" y1="20.4" x2="575.95" y2="24.299999999999997"/>
<line x1="596.38" y1="396.0" x2="596.38" y2="392.1"/>
<line x1="596.38" y1="20.4" x2="596.38" y2="24.299999999999997"/>
<line x1="616.81" y1="396.0" x2="616.81" y2="392.1"/>
<line x1="616.81" y1="20.4" x2="616.81" y2="24.299999999999997"/>
<line x1="637.24" y1="396.0" x2="637.24" y2="392.1"/>
<line x1="637.24" y1="20.4" x2="637.24" y2="24.299999999999997"/>
<line x1="657.68" y1="396.0" x2="657.68" y2="392.1"/>
<line x1="657.68" y1="20.4" x2="657.68" y2="24.299999999999997"/>
<line x1="678.11" y1="396.0" x2="678.11" y2="392.1"/>
<line x1="678.11" y1="20.4" x2="678.11" y2="24.299999999999997"/>
<line x1="698.54" y1="396.0" x2="698.54" y2="388.4"/>
<line x1="698.54" y1="20.4" x2="698.54" y2="28.0"/>
<line x1="718.97" y1="396.0" x2="718.97" y2="392.1"/>
<line x1="718.97" y1="20.4" x2="718.97" y2="24.299999999999997"/>
<line x1="739.40" y1="396.0" x2="739.40" y2="392.1"/>
<line x1="739.40" y1="20.4" x2="739.40" y2="24.299999999999997"/>
<line x1="759.84" y1="396.0" x2="759.84" y2="392.1"/>
<line x1="759.84" y1="20.4" x2="759.84" y2="24.299999999999997"/>
<line x1="780.27" y1="396.0" x2="780.27" y2="392.1"/>
<line x1="780.27" y1="20.4" x2="780.27" y2="24.299999999999997"/>
<line x1="800.70" y1="396.0" x2="800.70" y2="392.1"/>
<line x1="800.70" y1="20.4" x2="800.70" y2="24.299999999999997"/>
<line x1="821.13" y1="396.0" x2="821.13" y2="392.1"/>
<line x1="821.13" y1="20.4" x2="821.13" y2="24.299999999999997"/>
<line x1="841.56" y1="396.0" x2="841.56" y2="392.1"/>
<line x1="841.56" y1="20.4" x2="841.56" y2="24.299999999999997"/>
<line x1="862.00" y1="396.0" x2="862.00" y2="392.1"/>
<line x1="862.00" y1="20.4" x2="862.00" y2="24.299999999999997"/>
<line x1="882.43" y1="396.0" x2="882.43" y2="392.1"/>
<line x1="882.43" y1="20.4" x2="882.43" y2="24.299999999999997"/>
<line x1="902.86" y1="396.0" x2="902.86" y2="388.4"/>
<line x1="902.86" y1="20.4" x2="902.86" y2="28.0"/>
<line x1="923.29" y1="396.0" x2="923.29" y2="392.1"/>
<line x1="923.29" y1="20.4" x2="923.29" y2="24.299999999999997"/>
<line x1="943.72" y1="396.0" x2="943.72" y2="392.1"/>
<line x1="943.72" y1="20.4" x2="943.72" y2="24.299999999999997"/>
<line x1="964.16" y1="396.0" x2="964.16" y2="392.1"/>
<line x1="964.16" y1="20.4" x2="964.16" y2="24.299999999999997"/>
<line x1="984.59" y1="396.0" x2="984.59" y2="392.1"/>
<line x1="984.59" y1="20.4" x2="984.59" y2="24.299999999999997"/>
<line x1="1005.02" y1="396.0" x2="1005.02" y2="392.1"/>
<line x1="1005.02" y1="20.4" x2="1005.02" y2="24.299999999999997"/>
<line x1="1025.45" y1="396.0" x2="1025.45" y2="392.1"/>
<line x1="1025.45" y1="20.4" x2="1025.45" y2="24.299999999999997"/>
<line x1="1045.88" y1="396.0" x2="1045.88" y2="392.1"/>
<line x1="1045.88" y1="20.4" x2="1045.88" y2="24.299999999999997"/>
<line x1="1066.32" y1="396.0" x2="1066.32" y2="392.1"/>
<line x1="1066.32" y1="20.4" x2="1066.32" y2="24.299999999999997"/>
<line x1="1086.75" y1="396.0" x2="1086.75" y2="392.1"/>
<line x1="1086.75" y1="20.4" x2="1086.75" y2="24.299999999999997"/>
<line x1="1107.18" y1="396.0" x2="1107.18" y2="388.4"/>
<line x1="1107.18" y1="20.4" x2="1107.18" y2="28.0"/>
<line x1="1127.61" y1="396.0" x2="1127.61" y2="392.1"/>
<line x1="1127.61" y1="20.4" x2="1127.61" y2="24.299999999999997"/>
<line x1="1148.04" y1="396.0" x2="1148.04" y2="392.1"/>
<line x1="1148.04" y1="20.4" x2="1148.04" y2="24.299999999999997"/>
<line x1="1168.48" y1="396.0" x2="1168.48" y2="392.1"/>
<line x1="1168.48" y1="20.4" x2="1168.48" y2="24.299999999999997"/>
<line x1="1188.91" y1="396.0" x2="1188.91" y2="392.1"/>
<line x1="1188.91" y1="20.4" x2="1188.91" y2="24.299999999999997"/>
<line x1="1209.34" y1="396.0" x2="1209.34" y2="392.1"/>
<line x1="1209.34" y1="20.4" x2="1209.34" y2="24.299999999999997"/>
<line x1="1229.77" y1="396.0" x2="1229.77" y2="392.1"/>
<line x1="1229.77" y1="20.4" x2="1229.77" y2="24.299999999999997"/>
<line x1="1250.20" y1="396.0" x2="1250.20" y2="392.1"/>
<line x1="1250.20" y1="20.4" x2="1250.20" y2="24.299999999999997"/>
<line x1="1270.64" y1="396.0" x2="1270.64" y2="392.1"/>
<line x1="1270.64" y1="20.4" x2="1270.64" y2="24.299999999999997"/>
<line x1="1291.07" y1="396.0" x2="1291.07" y2="392.1"/>
<line x1="1291.07" y1="20.4" x2="1291.07" y2="24.299999999999997"/>
<line x1="1311.50" y1="396.0" x2="1311.50" y2="388.4"/>
<line x1="1311.50" y1="20.4" x2="1311.50" y2="28.0"/>
<line x1="1331.93" y1="396.0" x2="1331.93" y2="392.1"/>
<line x1="1331.93" y1="20.4" x2="1331.93" y2="24.299999999999997"/>
<line x1="123.4" y1="383.57" x2="135.6" y2="383.57"/>
<line x1="1343.7" y1="383.57" x2="1331.5" y2="383.57"/>
<line x1="123.4" y1="369.14" x2="135.6" y2="369.14"/>
<line x1="1343.7" y1="369.14" x2="1331.5" y2="369.14"/>
<line x1="123.4" y1="354.71" x2="135.6" y2="354.71"/>
<line x1="1343.7" y1="354.71" x2="1331.5" y2="354.71"/>
<line x1="123.4" y1="340.28" x2="135.6" y2="340.28"/>
<line x1="1343.7" y1="340.28" x2="1331.5" y2="340.28"/>
<line x1="123.4" y1="325.85" x2="147.9" y2="325.85"/>
<line x1="1343.7" y1="325.85" x2="1319.2" y2="325.85"/>
<line x1="123.4" y1="311.42" x2="135.6" y2="311.42"/>
<line x1="1343.7" y1="311.42" x2="1331.5" y2="311.42"/>
<line x1="123.4" y1="296.99" x2="135.6" y2="296.99"/>
<line x1="1343.7" y1="296.99" x2="1331.5" y2="296.99"/>
<line x1="123.4" y1="282.56" x2="135.6" y2="282.56"/>
<line x1="1343.7" y1="282.56" x2="1331.5" y2="282.56"/>
<line x1="123.4" y1="268.13" x2="135.6" y2="268.13"/>
<line x1="1343.7" y1="268.13" x2="1331.5" y2="268.13"/>
<line x1="123.4" y1="253.70" x2="147.9" y2="253.70"/>
<line x1="1343.7" y1="253.70" x2="1319.2" y2="253.70"/>
<line x1="123.4" y1="239.27" x2="135.6" y2="239.27"/>
<line x1="1343.7" y1="239.27" x2="1331.5" y2="239.27"/>
<line x1="123.4" y1="224.84" x2="135.6" y2="224.84"/>
<line x1="1343.7" y1="224.84" x2="1331.5" y2="224.84"/>
<line x1="123.4" y1="210.41" x2="135.6" y2="210.41"/>
<line x1="1343.7" y1="210.41" x2="1331.5" y2="210.41"/>
<line x1="123.4" y1="195.98" x2="135.6" y2="195.98"/>
<line x1="1343.7" y1="195.98" x2="1331.5" y2="195.98"/>
<line x1="123.4" y1="181.55" x2="147.9" y2="181.55"/>
<line x1="1343.7" y1="181.55" x2="1319.2" y2="181.55"/>
<line x1="123.4" y1="167.12" x2="135.6" y2="167.12"/>
<line x1="1343.7" y1="167.12" x2="1331.5" y2="167.12"/>
<line x1="123.4" y1="152.69" x2="135.6" y2="152.69"/>
<line x1="1343.7" y1="152.69" x2="1331.5" y2="152.69"/>
<line x1="123.4" y1="138.26" x2="135.6" y2="138.26"/>
<line x1="1343.7" y1="138.26" x2="1331.5" y2="138.26"/>
<line x1="123.4" y1="123.83" x2="135.6" y2="123.83"/>
<line x1="1343.7" y1="123.83" x2="1331.5" y2="123.83"/>
<line x1="123.4" y1="109.40" x2="147.9" y2="109.40"/>
<line x1="1343.7" y1="109.40" x2="1319.2" y2="109.40"/>
<line x1="123.4" y1="94.97" x2="135.6" y2="94.97"/>
<line x1="1343.7" y1="94.97" x2="1331.5" y2="94.97"/>
<line x1="123.4" y1="80.54" x2="135.6" y2="80.54"/>
<line x1="1343.7" y1="80.54" x2="1331.5" y2="80.54"/>
<line x1="123.4" y1="66.11" x2="135.6" y2="66.11"/>
<line x1="1343.7" y1="66.11" x2="1331.5" y2="66.11"/>
<line x1="123.4" y1="51.68" x2="135.6" y2="51.68"/>
<line x1="1343.7" y1="51.68" x2="1331.5" y2="51.68"/>
<line x1="123.4" y1="37.25" x2="147.9" y2="37.25"/>
<line x1="1343.7" y1="37.25" x2="1319.2" y2="37.25"/>
<line x1="123.4" y1="22.82" x2="135.6" y2="22.82"/>
<line x1="1343.7" y1="22.82" x2="1331.5" y2="22.82"/>
<rect x="123.4" y="546.0" width="1220.3" height="375.1" fill="none" stroke="#1a1a1a" stroke-width="1.1"/>
<line x1="126.44" y1="921.1" x2="126.44" y2="917.2"/>
<line x1="126.44" y1="546.0" x2="126.44" y2="549.9"/>
<line x1="146.88" y1="921.1" x2="146.88" y2="917.2"/>
<line x1="146.88" y1="546.0" x2="146.88" y2="549.9"/>
<line x1="167.31" y1="921.1" x2="167.31" y2="917.2"/>
<line x1="167.31" y1="546.0" x2="167.31" y2="549.9"/>
<line x1="187.74" y1="921.1" x2="187.74" y2="917.2"/>
<line x1="187.74" y1="546.0" x2="187.74" y2="549.9"/>
<line x1="208.17" y1="921.1" x2="208.17" y2="917.2"/>
<line x1="208.17" y1="546.0" x2="208.17" y2="549.9"/>
<line x1="228.60" y1="921.1" x2="228.60" y2="917.2"/>
<line x1="228.60" y1="546.0" x2="228.60" y2="549.9"/>
<line x1="249.04" y1="921.1" x2="249.04" y2="917.2"/>
<line x1="249.04" y1="546.0" x2="249.04" y2="549.9"/>
<line x1="269.47" y1="921.1" x2="269.47" y2="917.2"/>
<line x1="269.47" y1="546.0" x2="269.47" y2="549.9"/>
<line x1="289.90" y1="921.1" x2="289.90" y2="913.5"/>
<line x1="289.90" y1="546.0" x2="289.90" y2="553.6"/>
<line x1="310.33" y1="921.1" x2="310.33" y2="917.2"/>
<line x1="310.33" y1="546.0" x2="310.33" y2="549.9"/>
<line x1="330.76" y1="921.1" x2="330.76" y2="917.2"/>
<line x1="330.76" y1="546.0" x2="330.76" y2="549.9"/>
<line x1="351.20" y1="921.1" x2="351.20" y2="917.2"/>
<line x1="351.20" y1="546.0" x2="351.20" y2="549.9"/>
<line x1="371.63" y1="921.1" x2="371.63" y2="917.2"/>
<line x1="371.63" y1="546.0" x2="371.63" y2="549.9"/>
<line x1="392.06" y1="921.1" x2="392.06" y2="917.2"/>
<line x1="392.06" y1="546.0" x2="392.06" y2="549.9"/>
<line x1="412.49" y1="921.1" x2="412.49" y2="917.2"/>
<line x1="412.49" y1="546.0" x2="412.49" y2="549.9"/>
<line x1="432.92" y1="921.1" x2="432.92" y2="917.2"/>
<line x1="432.92" y1="546.0" x2="432.92" y2="549.9"/>
<line x1="453.36" y1="921.1" x2="453.36" y2="917.2"/>
<line x1="453.36" y1="546.0" x2="453.36" y2="549.9"/>
<line x1="473.79" y1="921.1" x2="473.79" y2="917.2"/>
<line x1="473.79" y1="546.0" x2="473.79" y2="549.9"/>
<line x1="494.22" y1="921.1" x2="494.22" y2="913.5"/>
<line x1="494.22" y1="546.0" x2="494.22" y2="553.6"/>
<line x1="514.65" y1="921.1" x2="514.65" y2="917.2"/>
<line x1="514.65" y1="546.0" x2="514.65" y2="549.9"/>
<line x1="535.08" y1="921.1" x2="535.08" y2="917.2"/>
<line x1="535.08" y1="546.0" x2="535.08" y2="549.9"/>
<line x1="555.52" y1="921.1" x2="555.52" y2="917.2"/>
<line x1="555.52" y1="546.0" x2="555.52" y2="549.9"/>
<line x1="575.95" y1="921.1" x2="575.95" y2="917.2"/>
<line x1="575.95" y1="546.0" x2="575.95" y2="549.9"/>
<line x1="596.38" y1="921.1" x2="596.38" y2="917.2"/>
<line x1="596.38" y1="546.0" x2="596.38" y2="549.9"/>
<line x1="616.81" y1="921.1" x2="616.81" y2="917.2"/>
<line x1="616.81" y1="546.0" x2="616.81" y2="549.9"/>
<line x1="637.24" y1="921.1" x2="637.24" y2="917.2"/>
<line x1="637.24" y1="546.0" x2="637.24" y2="549.9"/>
<line x1="657.68" y1="921.1" x2="657.68" y2="917.2"/>
<line x1="657.68" y1="546.0" x2="657.68" y2="549.9"/>
<line x1="678.11" y1="921.1" x2="678.11" y2="917.2"/>
<line x1="678.11" y1="546.0" x2="678.11" y2="549.9"/>
<line x1="698.54" y1="921.1" x2="698.54" y2="913.5"/>
<line x1="698.54" y1="546.0" x2="698.54" y2="553.6"/>
<line x1="718.97" y1="921.1" x2="718.97" y2="917.2"/>
<line x1="718.97" y1="546.0" x2="718.97" y2="549.9"/>
<line x1="739.40" y1="921.1" x2="739.40" y2="917.2"/>
<line x1="739.40" y1="546.0" x2="739.40" y2="549.9"/>
<line x1="759.84" y1="921.1" x2="759.84" y2="917.2"/>
<line x1="759.84" y1="546.0" x2="759.84" y2="549.9"/>
<line x1="780.27" y1="921.1" x2="780.27" y2="917.2"/>
<line x1="780.27" y1="546.0" x2="780.27" y2="549.9"/>
<line x1="800.70" y1="921.1" x2="800.70" y2="917.2"/>
<line x1="800.70" y1="546.0" x2="800.70" y2="549.9"/>
<line x1="821.13" y1="921.1" x2="821.13" y2="917.2"/>
<line x1="821.13" y1="546.0" x2="821.13" y2="549.9"/>
<line x1="841.56" y1="921.1" x2="841.56" y2="917.2"/>
<line x1="841.56" y1="546.0" x2="841.56" y2="549.9"/>
<line x1="862.00" y1="921.1" x2="862.00" y2="917.2"/>
<line x1="862.00" y1="546.0" x2="862.00" y2="549.9"/>
<line x1="882.43" y1="921.1" x2="882.43" y2="917.2"/>
<line x1="882.43" y1="546.0" x2="882.43" y2="549.9"/>
<line x1="902.86" y1="921.1" x2="902.86" y2="913.5"/>
<line x1="902.86" y1="546.0" x2="902.86" y2="553.6"/>
<line x1="923.29" y1="921.1" x2="923.29" y2="917.2"/>
<line x1="923.29" y1="546.0" x2="923.29" y2="549.9"/>
<line x1="943.72" y1="921.1" x2="943.72" y2="917.2"/>
<line x1="943.72" y1="546.0" x2="943.72" y2="549.9"/>
<line x1="964.16" y1="921.1" x2="964.16" y2="917.2"/>
<line x1="964.16" y1="546.0" x2="964.16" y2="549.9"/>
<line x1="984.59" y1="921.1" x2="984.59" y2="917.2"/>
<line x1="984.59" y1="546.0" x2="984.59" y2="549.9"/>
<line x1="1005.02" y1="921.1" x2="1005.02" y2="917.2"/>
<line x1="1005.02" y1="546.0" x2="1005.02" y2="549.9"/>
<line x1="1025.45" y1="921.1" x2="1025.45" y2="917.2"/>
<line x1="1025.45" y1="546.0" x2="1025.45" y2="549.9"/>
<line x1="1045.88" y1="921.1" x2="1045.88" y2="917.2"/>
<line x1="1045.88" y1="546.0" x2="1045.88" y2="549.9"/>
<line x1="1066.32" y1="921.1" x2="1066.32" y2="917.2"/>
<line x1="1066.32" y1="546.0" x2="1066.32" y2="549.9"/>
<line x1="1086.75" y1="921.1" x2="1086.75" y2="917.2"/>
<line x1="1086.75" y1="546.0" x2="1086.75" y2="549.9"/>
<line x1="1107.18" y1="921.1" x2="1107.18" y2="913.5"/>
<line x1="1107.18" y1="546.0" x2="1107.18" y2="553.6"/>
<line x1="1127.61" y1="921.1" x2="1127.61" y2="917.2"/>
<line x1="1127.61" y1="546.0" x2="1127.61" y2="549.9"/>
<line x1="1148.04" y1="921.1" x2="1148.04" y2="917.2"/>
<line x1="1148.04" y1="546.0" x2="1148.04" y2="549.9"/>
<line x1="1168.48" y1="921.1" x2="1168.48" y2="917.2"/>
<line x1="1168.48" y1="546.0" x2="1168.48" y2="549.9"/>
<line x1="1188.91" y1="921.1" x2="1188.91" y2="917.2"/>
<line x1="1188.91" y1="546.0" x2="1188.91" y2="549.9"/>
<line x1="1209.34" y1="921.1" x2="1209.34" y2="917.2"/>
<line x1="1209.34" y1="546.0" x2="1209.34" y2="549.9"/>
<line x1="1229.77" y1="921.1" x2="1229.77" y2="917.2"/>
<line x1="1229.77" y1="546.0" x2="1229.77" y2="549.9"/>
<line x1="1250.20" y1="921.1" x2="1250.20" y2="917.2"/>
<line x1="1250.20" y1="546.0" x2="1250.20" y2="549.9"/>
<line x1="1270.64" y1="921.1" x2="1270.64" y2="917.2"/>
<line x1="1270.64" y1="546.0" x2="1270.64" y2="549.9"/>
<line x1="1291.07" y1="921.1" x2="1291.07" y2="917.2"/>
<line x1="1291.07" y1="546.0" x2="1291.07" y2="549.9"/>
<line x1="1311.50" y1="921.1" x2="1311.50" y2="913.5"/>
<line x1="1311.50" y1="546.0" x2="1311.50" y2="553.6"/>
<line x1="1331.93" y1="921.1" x2="1331.93" y2="917.2"/>
<line x1="1331.93" y1="546.0" x2="1331.93" y2="549.9"/>
<line x1="123.4" y1="921.10" x2="147.9" y2="921.10"/>
<line x1="1343.7" y1="921.10" x2="1319.2" y2="921.10"/>
<line x1="123.4" y1="906.10" x2="135.6" y2="906.10"/>
<line x1="1343.7" y1="906.10" x2="1331.5" y2="906.10"/>
<line x1="123.4" y1="891.09" x2="135.6" y2="891.09"/>
<line x1="1343.7" y1="891.09" x2="1331.5" y2="891.09"/>
<line x1="123.4" y1="876.09" x2="135.6" y2="876.09"/>
<line x1="1343.7" y1="876.09" x2="1331.5" y2="876.09"/>
<line x1="123.4" y1="861.08" x2="135.6" y2="861.08"/>
<line x1="1343.7" y1="861.08" x2="1331.5" y2="861.08"/>
<line x1="123.4" y1="846.08" x2="147.9" y2="846.08"/>
<line x1="1343.7" y1="846.08" x2="1319.2" y2="846.08"/>
<line x1="123.4" y1="831.08" x2="135.6" y2="831.08"/>
<line x1="1343.7" y1="831.08" x2="1331.5" y2="831.08"/>
<line x1="123.4" y1="816.07" x2="135.6" y2="816.07"/>
<line x1="1343.7" y1="816.07" x2="1331.5" y2="816.07"/>
<line x1="123.4" y1="801.07" x2="135.6" y2="801.07"/>
<line x1="1343.7" y1="801.07" x2="1331.5" y2="801.07"/>
<line x1="123.4" y1="786.06" x2="135.6" y2="786.06"/>
<line x1="1343.7" y1="786.06" x2="1331.5" y2="786.06"/>
<line x1="123.4" y1="771.06" x2="147.9" y2="771.06"/>
<line x1="1343.7" y1="771.06" x2="1319.2" y2="771.06"/>
<line x1="123.4" y1="756.06" x2="135.6" y2="756.06"/>
<line x1="1343.7" y1="756.06" x2="1331.5" y2="756.06"/>
<line x1="123.4" y1="741.05" x2="135.6" y2="741.05"/>
<line x1="1343.7" y1="741.05" x2="1331.5" y2="741.05"/>
<line x1="123.4" y1="726.05" x2="135.6" y2="726.05"/>
<line x1="1343.7" y1="726.05" x2="1331.5" y2="726.05"/>
<line x1="123.4" y1="711.04" x2="135.6" y2="711.04"/>
<line x1="1343.7" y1="711.04" x2="1331.5" y2="711.04"/>
<line x1="123.4" y1="696.04" x2="147.9" y2="696.04"/>
<line x1="1343.7" y1="696.04" x2="1319.2" y2="696.04"/>
<line x1="123.4" y1="681.04" x2="135.6" y2="681.04"/>
<line x1="1343.7" y1="681.04" x2="1331.5" y2="681.04"/>
<line x1="123.4" y1="666.03" x2="135.6" y2="666.03"/>
<line x1="1343.7" y1="666.03" x2="1331.5" y2="666.03"/>
<line x1="123.4" y1="651.03" x2="135.6" y2="651.03"/>
<line x1="1343.7" y1="651.03" x2="1331.5" y2="651.03"/>
<line x1="123.4" y1="636.02" x2="135.6" y2="636.02"/>
<line x1="1343.7" y1="636.02" x2="1331.5" y2="636.02"/>
<line x1="123.4" y1="621.02" x2="147.9" y2="621.02"/>
<line x1="1343.7" y1="621.02" x2="1319.2" y2="621.02"/>
<line x1="123.4" y1="606.02" x2="135.6" y2="606.02"/>
<line x1="1343.7" y1="606.02" x2="1331.5" y2="606.02"/>
<line x1="123.4" y1="591.01" x2="135.6" y2="591.01"/>
<line x1="1343.7" y1="591.01" x2="1331.5" y2="591.01"/>
<line x1="123.4" y1="576.01" x2="135.6" y2="576.01"/>
<line x1="1343.7" y1="576.01" x2="1331.5" y2="576.01"/>
<line x1="123.4" y1="561.00" x2="135.6" y2="561.00"/>
<line x1="1343.7" y1="561.00" x2="1331.5" y2="561.00"/>
<line x1="123.4" y1="546.00" x2="147.9" y2="546.00"/>
<line x1="1343.7" y1="546.00" x2="1319.2" y2="546.00"/>
</g>
<text transform="translate(290.4,434.2) scale(1,1.05)" text-anchor="middle" font-size="30">1200</text>
<text transform="translate(290.4,959.2) scale(1,1.05)" text-anchor="middle" font-size="30">1200</text>
<text transform="translate(494.7,434.2) scale(1,1.05)" text-anchor="middle" font-size="30">1300</text>
<text transform="translate(494.7,959.2) scale(1,1.05)" text-anchor="middle" font-size="30">1300</text>
<text transform="translate(699.0,434.2) scale(1,1.05)" text-anchor="middle" font-size="30">1400</text>
<text transform="translate(699.0,959.2) scale(1,1.05)" text-anchor="middle" font-size="30">1400</text>
<text transform="translate(903.4,434.2) scale(1,1.05)" text-anchor="middle" font-size="30">1500</text>
<text transform="translate(903.4,959.2) scale(1,1.05)" text-anchor="middle" font-size="30">1500</text>
<text transform="translate(1107.7,434.2) scale(1,1.05)" text-anchor="middle" font-size="30">1600</text>
<text transform="translate(1107.7,959.2) scale(1,1.05)" text-anchor="middle" font-size="30">1600</text>
<text transform="translate(1312.0,434.2) scale(1,1.05)" text-anchor="middle" font-size="30">1700</text>
<text transform="translate(1312.0,959.2) scale(1,1.05)" text-anchor="middle" font-size="30">1700</text>
<text transform="translate(115.5,336.5) scale(1,1.05)" text-anchor="end" font-size="30">50</text>
<text transform="translate(115.5,264.3) scale(1,1.05)" text-anchor="end" font-size="30">100</text>
<text transform="translate(115.5,192.1) scale(1,1.05)" text-anchor="end" font-size="30">150</text>
<text transform="translate(115.5,120.0) scale(1,1.05)" text-anchor="end" font-size="30">200</text>
<text transform="translate(115.5,47.9) scale(1,1.05)" text-anchor="end" font-size="30">250</text>
<text transform="translate(115.5,921.2) scale(1,1.05)" text-anchor="end" font-size="30">0</text>
<text transform="translate(115.5,856.7) scale(1,1.05)" text-anchor="end" font-size="30">5</text>
<text transform="translate(115.5,781.7) scale(1,1.05)" text-anchor="end" font-size="30">10</text>
<text transform="translate(115.5,706.6) scale(1,1.05)" text-anchor="end" font-size="30">15</text>
<text transform="translate(115.5,631.6) scale(1,1.05)" text-anchor="end" font-size="30">20</text>
<text transform="translate(115.5,563.3) scale(1,1.05)" text-anchor="end" font-size="30">25</text>
<text transform="translate(733.0,465.8) scale(1,1.07)" text-anchor="middle" font-size="30">Wavelength (Angstrom)</text>
<text transform="translate(733.0,990.8) scale(1,1.07)" text-anchor="middle" font-size="30">Wavelength (Angstrom)</text>
<text transform="translate(42.1,208.2) rotate(-90) scale(1,1.07)" text-anchor="middle" font-size="30">Flux (R/A)</text>
<text transform="translate(59.2,733.4) rotate(-90) scale(1,1.07)" text-anchor="middle" font-size="30">Flux (R/A)</text>
<text x="821.5" y="64.9" font-size="25" fill="#000">Average of all 1D spectra</text>
<text x="821.5" y="97.1" font-size="25" fill="#969696">Average of the 50% most intense 1D spectra</text>
<text x="821.5" y="127.9" font-size="25" fill="#1457be">Average of the 10% most intense 1D spectra</text>
</svg></body></html>
